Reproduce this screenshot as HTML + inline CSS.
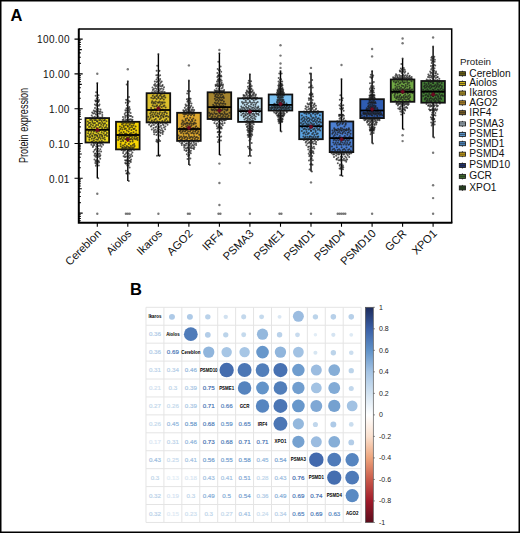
<!DOCTYPE html>
<html><head><meta charset="utf-8"><title>Figure</title>
<style>html,body{margin:0;padding:0;background:#fff;width:520px;height:533px;overflow:hidden}</style>
</head><body>
<svg width="520" height="533" viewBox="0 0 520 533" style="display:block"><rect x="0" y="0" width="520" height="533" fill="#fff"/><text x="10.6" y="20.8" font-family='"Liberation Sans", sans-serif' font-weight="bold" font-size="16.5" fill="#000">A</text><line x1="97.3" y1="82.9" x2="97.3" y2="118.1" stroke="#000" stroke-width="1.4"/><line x1="97.3" y1="142.5" x2="97.3" y2="178.3" stroke="#000" stroke-width="1.4"/><rect x="85.5" y="118.1" width="23.6" height="24.4" fill="#efdd22" stroke="#111" stroke-width="1.8"/><line x1="127.8" y1="81.2" x2="127.8" y2="121.8" stroke="#000" stroke-width="1.4"/><line x1="127.8" y1="149.4" x2="127.8" y2="181.1" stroke="#000" stroke-width="1.4"/><rect x="116.0" y="121.8" width="23.6" height="27.6" fill="#f7d504" stroke="#111" stroke-width="1.8"/><line x1="158.4" y1="54.1" x2="158.4" y2="93.2" stroke="#000" stroke-width="1.4"/><line x1="158.4" y1="122.4" x2="158.4" y2="156.0" stroke="#000" stroke-width="1.4"/><rect x="146.6" y="93.2" width="23.6" height="29.2" fill="#dcc02c" stroke="#111" stroke-width="1.8"/><line x1="188.9" y1="80.5" x2="188.9" y2="112.8" stroke="#000" stroke-width="1.4"/><line x1="188.9" y1="140.9" x2="188.9" y2="165.0" stroke="#000" stroke-width="1.4"/><rect x="177.1" y="112.8" width="23.6" height="28.1" fill="#dea82e" stroke="#111" stroke-width="1.8"/><line x1="219.4" y1="53.2" x2="219.4" y2="92.3" stroke="#000" stroke-width="1.4"/><line x1="219.4" y1="119.0" x2="219.4" y2="155.0" stroke="#000" stroke-width="1.4"/><rect x="207.6" y="92.3" width="23.6" height="26.7" fill="#a5842e" stroke="#111" stroke-width="1.8"/><line x1="249.9" y1="74.2" x2="249.9" y2="98.3" stroke="#000" stroke-width="1.4"/><line x1="249.9" y1="121.9" x2="249.9" y2="156.0" stroke="#000" stroke-width="1.4"/><rect x="238.1" y="98.3" width="23.6" height="23.6" fill="#c8e6f6" stroke="#111" stroke-width="1.8"/><line x1="280.5" y1="71.0" x2="280.5" y2="94.5" stroke="#000" stroke-width="1.4"/><line x1="280.5" y1="110.5" x2="280.5" y2="131.6" stroke="#000" stroke-width="1.4"/><rect x="268.7" y="94.5" width="23.6" height="16.0" fill="#78bff0" stroke="#111" stroke-width="1.8"/><line x1="311.0" y1="73.5" x2="311.0" y2="111.8" stroke="#000" stroke-width="1.4"/><line x1="311.0" y1="139.2" x2="311.0" y2="171.5" stroke="#000" stroke-width="1.4"/><rect x="299.2" y="111.8" width="23.6" height="27.4" fill="#5ca3e0" stroke="#111" stroke-width="1.8"/><line x1="341.5" y1="79.1" x2="341.5" y2="121.5" stroke="#000" stroke-width="1.4"/><line x1="341.5" y1="152.1" x2="341.5" y2="175.9" stroke="#000" stroke-width="1.4"/><rect x="329.7" y="121.5" width="23.6" height="30.6" fill="#4c7fd2" stroke="#111" stroke-width="1.8"/><line x1="372.1" y1="71.0" x2="372.1" y2="99.2" stroke="#000" stroke-width="1.4"/><line x1="372.1" y1="118.1" x2="372.1" y2="143.5" stroke="#000" stroke-width="1.4"/><rect x="360.3" y="99.2" width="23.6" height="18.9" fill="#2f5db2" stroke="#111" stroke-width="1.8"/><line x1="402.6" y1="58.5" x2="402.6" y2="79.5" stroke="#000" stroke-width="1.4"/><line x1="402.6" y1="101.8" x2="402.6" y2="129.3" stroke="#000" stroke-width="1.4"/><rect x="390.8" y="79.5" width="23.6" height="22.3" fill="#71a944" stroke="#111" stroke-width="1.8"/><line x1="433.1" y1="46.6" x2="433.1" y2="81.0" stroke="#000" stroke-width="1.4"/><line x1="433.1" y1="102.7" x2="433.1" y2="137.6" stroke="#000" stroke-width="1.4"/><rect x="421.3" y="81.0" width="23.6" height="21.7" fill="#458236" stroke="#111" stroke-width="1.8"/><g fill="#1a1a1a" fill-opacity="0.72"><circle cx="98.2" cy="178.3" r="1.0"/><circle cx="95.9" cy="165.7" r="1.0"/><circle cx="98.8" cy="165.5" r="1.0"/><circle cx="96.5" cy="163.9" r="1.0"/><circle cx="97.6" cy="163.2" r="1.0"/><circle cx="95.3" cy="163.1" r="1.0"/><circle cx="99.1" cy="162.2" r="1.0"/><circle cx="96.8" cy="161.9" r="1.0"/><circle cx="97.9" cy="161.4" r="1.0"/><circle cx="95.6" cy="161.2" r="1.0"/><circle cx="98.6" cy="161.0" r="1.0"/><circle cx="96.1" cy="160.6" r="1.0"/><circle cx="97.4" cy="159.8" r="1.0"/><circle cx="94.5" cy="159.4" r="1.0"/><circle cx="100.2" cy="158.8" r="1.0"/><circle cx="97.2" cy="157.2" r="1.0"/><circle cx="98.9" cy="156.9" r="1.0"/><circle cx="95.5" cy="156.8" r="1.0"/><circle cx="99.8" cy="156.3" r="1.0"/><circle cx="96.3" cy="155.5" r="1.0"/><circle cx="98.1" cy="155.5" r="1.0"/><circle cx="94.5" cy="155.4" r="1.0"/><circle cx="100.4" cy="155.3" r="1.0"/><circle cx="96.8" cy="155.2" r="1.0"/><circle cx="98.6" cy="154.1" r="1.0"/><circle cx="94.8" cy="153.7" r="1.0"/><circle cx="99.6" cy="153.6" r="1.0"/><circle cx="95.8" cy="153.4" r="1.0"/><circle cx="97.7" cy="152.0" r="1.0"/><circle cx="93.6" cy="151.8" r="1.0"/><circle cx="101.1" cy="151.4" r="1.0"/><circle cx="96.9" cy="151.2" r="1.0"/><circle cx="99.0" cy="151.0" r="1.0"/><circle cx="94.7" cy="150.0" r="1.0"/><circle cx="100.3" cy="149.2" r="1.0"/><circle cx="95.8" cy="149.1" r="1.0"/><circle cx="98.1" cy="148.8" r="1.0"/><circle cx="92.9" cy="146.9" r="1.0"/><circle cx="101.5" cy="146.8" r="1.0"/><circle cx="96.2" cy="146.7" r="1.0"/><circle cx="98.9" cy="146.1" r="1.0"/><circle cx="93.2" cy="145.7" r="1.0"/><circle cx="100.5" cy="145.4" r="1.0"/><circle cx="94.5" cy="145.0" r="1.0"/><circle cx="97.5" cy="144.9" r="1.0"/><circle cx="91.4" cy="144.8" r="1.0"/><circle cx="103.1" cy="144.7" r="1.0"/><circle cx="97.0" cy="144.4" r="1.0"/><circle cx="100.2" cy="143.8" r="1.0"/><circle cx="93.6" cy="143.7" r="1.0"/><circle cx="101.9" cy="143.6" r="1.0"/><circle cx="95.2" cy="143.1" r="1.0"/><circle cx="98.7" cy="142.9" r="1.0"/><circle cx="91.5" cy="142.5" r="1.0"/><circle cx="103.3" cy="142.3" r="1.0"/><circle cx="96.0" cy="142.0" r="1.0"/><circle cx="99.7" cy="141.6" r="1.0"/><circle cx="92.1" cy="141.4" r="1.0"/><circle cx="101.8" cy="140.9" r="1.0"/><circle cx="93.8" cy="140.5" r="1.0"/><circle cx="97.9" cy="139.8" r="1.0"/><circle cx="89.4" cy="139.7" r="1.0"/><circle cx="104.9" cy="139.6" r="1.0"/><circle cx="96.3" cy="139.5" r="1.0"/><circle cx="100.7" cy="138.8" r="1.0"/><circle cx="91.8" cy="138.7" r="1.0"/><circle cx="103.0" cy="138.6" r="1.0"/><circle cx="94.0" cy="138.4" r="1.0"/><circle cx="98.5" cy="137.9" r="1.0"/><circle cx="89.2" cy="137.6" r="1.0"/><circle cx="104.5" cy="137.4" r="1.0"/><circle cx="95.0" cy="137.2" r="1.0"/><circle cx="99.8" cy="137.1" r="1.0"/><circle cx="90.2" cy="137.0" r="1.0"/><circle cx="102.2" cy="136.7" r="1.0"/><circle cx="92.5" cy="136.6" r="1.0"/><circle cx="97.4" cy="136.6" r="1.0"/><circle cx="87.6" cy="136.2" r="1.0"/><circle cx="107.0" cy="136.0" r="1.0"/><circle cx="97.1" cy="135.6" r="1.0"/><circle cx="102.1" cy="135.5" r="1.0"/><circle cx="92.1" cy="135.4" r="1.0"/><circle cx="104.7" cy="135.2" r="1.0"/><circle cx="94.6" cy="135.1" r="1.0"/><circle cx="99.7" cy="135.1" r="1.0"/><circle cx="89.6" cy="134.9" r="1.0"/><circle cx="106.0" cy="134.7" r="1.0"/><circle cx="95.9" cy="134.7" r="1.0"/><circle cx="101.0" cy="134.4" r="1.0"/><circle cx="90.7" cy="133.8" r="1.0"/><circle cx="103.6" cy="133.5" r="1.0"/><circle cx="93.3" cy="133.5" r="1.0"/><circle cx="98.4" cy="133.4" r="1.0"/><circle cx="88.1" cy="133.2" r="1.0"/><circle cx="106.9" cy="133.0" r="1.0"/><circle cx="96.5" cy="132.3" r="1.0"/><circle cx="101.7" cy="132.3" r="1.0"/><circle cx="91.3" cy="131.7" r="1.0"/><circle cx="104.3" cy="131.6" r="1.0"/><circle cx="93.9" cy="131.5" r="1.0"/><circle cx="99.1" cy="131.2" r="1.0"/><circle cx="88.6" cy="131.2" r="1.0"/><circle cx="105.7" cy="130.9" r="1.0"/><circle cx="95.2" cy="130.7" r="1.0"/><circle cx="100.4" cy="130.0" r="1.0"/><circle cx="89.9" cy="129.8" r="1.0"/><circle cx="103.0" cy="129.8" r="1.0"/><circle cx="92.5" cy="129.5" r="1.0"/><circle cx="97.8" cy="129.4" r="1.0"/><circle cx="87.3" cy="129.2" r="1.0"/><circle cx="107.3" cy="128.3" r="1.0"/><circle cx="96.8" cy="128.0" r="1.0"/><circle cx="102.1" cy="127.9" r="1.0"/><circle cx="91.6" cy="127.8" r="1.0"/><circle cx="104.7" cy="127.7" r="1.0"/><circle cx="94.2" cy="127.5" r="1.0"/><circle cx="99.4" cy="127.2" r="1.0"/><circle cx="89.0" cy="127.1" r="1.0"/><circle cx="106.0" cy="127.1" r="1.0"/><circle cx="95.5" cy="126.6" r="1.0"/><circle cx="100.7" cy="126.5" r="1.0"/><circle cx="90.3" cy="126.2" r="1.0"/><circle cx="103.3" cy="125.7" r="1.0"/><circle cx="92.9" cy="125.4" r="1.0"/><circle cx="98.1" cy="125.1" r="1.0"/><circle cx="87.8" cy="125.1" r="1.0"/><circle cx="106.5" cy="125.0" r="1.0"/><circle cx="96.2" cy="124.9" r="1.0"/><circle cx="101.3" cy="124.6" r="1.0"/><circle cx="91.0" cy="124.6" r="1.0"/><circle cx="103.8" cy="124.0" r="1.0"/><circle cx="93.7" cy="123.5" r="1.0"/><circle cx="98.7" cy="123.3" r="1.0"/><circle cx="88.7" cy="123.3" r="1.0"/><circle cx="105.0" cy="123.2" r="1.0"/><circle cx="95.0" cy="123.1" r="1.0"/><circle cx="100.0" cy="123.0" r="1.0"/><circle cx="90.0" cy="122.7" r="1.0"/><circle cx="102.4" cy="122.7" r="1.0"/><circle cx="92.5" cy="122.6" r="1.0"/><circle cx="97.4" cy="121.5" r="1.0"/><circle cx="87.9" cy="121.4" r="1.0"/><circle cx="106.5" cy="121.3" r="1.0"/><circle cx="97.0" cy="121.2" r="1.0"/><circle cx="101.7" cy="121.1" r="1.0"/><circle cx="92.3" cy="121.0" r="1.0"/><circle cx="103.9" cy="120.5" r="1.0"/><circle cx="94.7" cy="120.3" r="1.0"/><circle cx="99.3" cy="120.2" r="1.0"/><circle cx="90.2" cy="120.1" r="1.0"/><circle cx="104.9" cy="120.0" r="1.0"/><circle cx="95.9" cy="119.9" r="1.0"/><circle cx="100.4" cy="119.7" r="1.0"/><circle cx="91.6" cy="119.4" r="1.0"/><circle cx="102.3" cy="118.8" r="1.0"/><circle cx="93.9" cy="118.7" r="1.0"/><circle cx="98.1" cy="118.4" r="1.0"/><circle cx="89.9" cy="118.3" r="1.0"/><circle cx="104.7" cy="118.2" r="1.0"/><circle cx="96.5" cy="118.1" r="1.0"/><circle cx="100.5" cy="117.7" r="1.0"/><circle cx="92.8" cy="117.2" r="1.0"/><circle cx="102.3" cy="117.1" r="1.0"/><circle cx="94.8" cy="116.7" r="1.0"/><circle cx="98.4" cy="116.3" r="1.0"/><circle cx="91.7" cy="115.4" r="1.0"/><circle cx="102.3" cy="114.9" r="1.0"/><circle cx="95.9" cy="114.5" r="1.0"/><circle cx="98.9" cy="113.8" r="1.0"/><circle cx="93.2" cy="113.5" r="1.0"/><circle cx="100.3" cy="113.4" r="1.0"/><circle cx="94.7" cy="113.3" r="1.0"/><circle cx="97.5" cy="113.1" r="1.0"/><circle cx="92.2" cy="112.5" r="1.0"/><circle cx="102.2" cy="112.5" r="1.0"/><circle cx="97.0" cy="111.9" r="1.0"/><circle cx="99.4" cy="111.8" r="1.0"/><circle cx="94.6" cy="111.6" r="1.0"/><circle cx="100.5" cy="111.4" r="1.0"/><circle cx="95.8" cy="111.2" r="1.0"/><circle cx="98.1" cy="110.9" r="1.0"/><circle cx="93.8" cy="110.5" r="1.0"/><circle cx="100.5" cy="109.6" r="1.0"/><circle cx="96.6" cy="109.4" r="1.0"/><circle cx="98.5" cy="109.1" r="1.0"/><circle cx="95.0" cy="107.9" r="1.0"/><circle cx="98.9" cy="105.7" r="1.0"/><circle cx="96.1" cy="105.5" r="1.0"/><circle cx="97.5" cy="105.2" r="1.0"/><circle cx="94.9" cy="104.6" r="1.0"/><circle cx="99.5" cy="104.5" r="1.0"/><circle cx="97.0" cy="104.0" r="1.0"/><circle cx="98.2" cy="102.0" r="1.0"/><circle cx="95.9" cy="101.4" r="1.0"/><circle cx="98.7" cy="101.2" r="1.0"/><circle cx="96.4" cy="101.0" r="1.0"/><circle cx="97.6" cy="100.9" r="1.0"/><circle cx="95.3" cy="100.5" r="1.0"/><circle cx="99.0" cy="100.1" r="1.0"/><circle cx="96.7" cy="98.6" r="1.0"/><circle cx="97.9" cy="97.7" r="1.0"/><circle cx="95.6" cy="95.8" r="1.0"/><circle cx="98.5" cy="95.3" r="1.0"/><circle cx="96.1" cy="92.2" r="1.0"/><circle cx="97.3" cy="82.9" r="1.0"/><circle cx="97.3" cy="73.7" r="1.2" fill="#444"/><circle cx="97.3" cy="193.7" r="1.2" fill="#444"/><circle cx="97.3" cy="213.7" r="1.2" fill="#444"/><circle cx="128.8" cy="181.1" r="1.0"/><circle cx="126.4" cy="173.6" r="1.0"/><circle cx="129.3" cy="173.5" r="1.0"/><circle cx="127.0" cy="173.3" r="1.0"/><circle cx="128.2" cy="172.2" r="1.0"/><circle cx="125.9" cy="170.8" r="1.0"/><circle cx="129.6" cy="167.5" r="1.0"/><circle cx="127.3" cy="165.6" r="1.0"/><circle cx="128.5" cy="165.6" r="1.0"/><circle cx="126.0" cy="163.7" r="1.0"/><circle cx="129.2" cy="163.4" r="1.0"/><circle cx="126.6" cy="163.2" r="1.0"/><circle cx="127.9" cy="163.1" r="1.0"/><circle cx="125.2" cy="162.9" r="1.0"/><circle cx="130.8" cy="161.9" r="1.0"/><circle cx="127.8" cy="161.6" r="1.0"/><circle cx="129.4" cy="161.1" r="1.0"/><circle cx="126.0" cy="160.8" r="1.0"/><circle cx="130.3" cy="160.7" r="1.0"/><circle cx="126.9" cy="160.6" r="1.0"/><circle cx="128.6" cy="160.4" r="1.0"/><circle cx="125.1" cy="160.2" r="1.0"/><circle cx="131.1" cy="159.4" r="1.0"/><circle cx="127.3" cy="159.3" r="1.0"/><circle cx="129.3" cy="157.9" r="1.0"/><circle cx="124.9" cy="157.1" r="1.0"/><circle cx="130.5" cy="157.0" r="1.0"/><circle cx="126.0" cy="156.8" r="1.0"/><circle cx="128.3" cy="156.6" r="1.0"/><circle cx="123.6" cy="156.3" r="1.0"/><circle cx="132.2" cy="156.1" r="1.0"/><circle cx="127.4" cy="155.7" r="1.0"/><circle cx="129.9" cy="155.2" r="1.0"/><circle cx="124.8" cy="154.8" r="1.0"/><circle cx="131.3" cy="154.2" r="1.0"/><circle cx="126.0" cy="153.5" r="1.0"/><circle cx="128.7" cy="153.4" r="1.0"/><circle cx="123.1" cy="152.9" r="1.0"/><circle cx="132.4" cy="152.5" r="1.0"/><circle cx="126.6" cy="152.2" r="1.0"/><circle cx="129.6" cy="151.1" r="1.0"/><circle cx="123.4" cy="151.0" r="1.0"/><circle cx="131.2" cy="150.7" r="1.0"/><circle cx="124.9" cy="150.4" r="1.0"/><circle cx="128.1" cy="150.3" r="1.0"/><circle cx="121.6" cy="150.1" r="1.0"/><circle cx="134.0" cy="149.8" r="1.0"/><circle cx="127.5" cy="149.6" r="1.0"/><circle cx="130.8" cy="149.0" r="1.0"/><circle cx="124.1" cy="149.0" r="1.0"/><circle cx="132.6" cy="148.8" r="1.0"/><circle cx="125.7" cy="148.1" r="1.0"/><circle cx="129.2" cy="148.0" r="1.0"/><circle cx="122.1" cy="147.9" r="1.0"/><circle cx="133.7" cy="147.6" r="1.0"/><circle cx="126.5" cy="147.6" r="1.0"/><circle cx="130.1" cy="147.6" r="1.0"/><circle cx="122.9" cy="147.5" r="1.0"/><circle cx="132.0" cy="147.2" r="1.0"/><circle cx="124.7" cy="147.1" r="1.0"/><circle cx="128.3" cy="147.0" r="1.0"/><circle cx="120.8" cy="146.2" r="1.0"/><circle cx="134.6" cy="146.1" r="1.0"/><circle cx="126.9" cy="146.0" r="1.0"/><circle cx="130.8" cy="145.7" r="1.0"/><circle cx="123.0" cy="145.4" r="1.0"/><circle cx="132.9" cy="145.0" r="1.0"/><circle cx="124.8" cy="144.5" r="1.0"/><circle cx="128.9" cy="144.1" r="1.0"/><circle cx="120.6" cy="144.0" r="1.0"/><circle cx="134.2" cy="144.0" r="1.0"/><circle cx="125.7" cy="142.4" r="1.0"/><circle cx="130.2" cy="141.8" r="1.0"/><circle cx="121.0" cy="141.6" r="1.0"/><circle cx="132.6" cy="141.4" r="1.0"/><circle cx="123.2" cy="141.1" r="1.0"/><circle cx="127.9" cy="140.6" r="1.0"/><circle cx="118.1" cy="140.1" r="1.0"/><circle cx="137.5" cy="139.9" r="1.0"/><circle cx="127.7" cy="139.9" r="1.0"/><circle cx="132.6" cy="139.8" r="1.0"/><circle cx="122.7" cy="139.7" r="1.0"/><circle cx="135.2" cy="139.3" r="1.0"/><circle cx="125.2" cy="139.3" r="1.0"/><circle cx="130.2" cy="139.2" r="1.0"/><circle cx="120.1" cy="139.0" r="1.0"/><circle cx="136.6" cy="138.7" r="1.0"/><circle cx="126.4" cy="138.7" r="1.0"/><circle cx="131.5" cy="138.7" r="1.0"/><circle cx="121.3" cy="138.6" r="1.0"/><circle cx="134.1" cy="138.2" r="1.0"/><circle cx="123.8" cy="137.9" r="1.0"/><circle cx="129.0" cy="137.8" r="1.0"/><circle cx="118.6" cy="137.7" r="1.0"/><circle cx="137.4" cy="137.7" r="1.0"/><circle cx="127.0" cy="137.3" r="1.0"/><circle cx="132.2" cy="137.1" r="1.0"/><circle cx="121.8" cy="136.9" r="1.0"/><circle cx="134.9" cy="136.8" r="1.0"/><circle cx="124.4" cy="136.5" r="1.0"/><circle cx="129.6" cy="136.5" r="1.0"/><circle cx="119.1" cy="136.3" r="1.0"/><circle cx="136.2" cy="136.2" r="1.0"/><circle cx="125.7" cy="136.1" r="1.0"/><circle cx="130.9" cy="136.0" r="1.0"/><circle cx="120.5" cy="135.7" r="1.0"/><circle cx="133.6" cy="135.4" r="1.0"/><circle cx="123.1" cy="135.4" r="1.0"/><circle cx="128.3" cy="135.4" r="1.0"/><circle cx="117.9" cy="135.3" r="1.0"/><circle cx="137.7" cy="134.8" r="1.0"/><circle cx="127.3" cy="134.6" r="1.0"/><circle cx="132.5" cy="134.6" r="1.0"/><circle cx="122.2" cy="134.2" r="1.0"/><circle cx="135.1" cy="134.2" r="1.0"/><circle cx="124.8" cy="133.8" r="1.0"/><circle cx="129.9" cy="133.8" r="1.0"/><circle cx="119.7" cy="133.6" r="1.0"/><circle cx="136.2" cy="133.6" r="1.0"/><circle cx="126.1" cy="133.4" r="1.0"/><circle cx="131.1" cy="133.1" r="1.0"/><circle cx="121.2" cy="132.6" r="1.0"/><circle cx="133.5" cy="132.3" r="1.0"/><circle cx="123.7" cy="131.9" r="1.0"/><circle cx="128.6" cy="131.5" r="1.0"/><circle cx="119.3" cy="130.7" r="1.0"/><circle cx="136.1" cy="130.5" r="1.0"/><circle cx="126.8" cy="130.5" r="1.0"/><circle cx="131.4" cy="130.0" r="1.0"/><circle cx="122.4" cy="129.4" r="1.0"/><circle cx="133.5" cy="129.1" r="1.0"/><circle cx="124.7" cy="129.0" r="1.0"/><circle cx="129.1" cy="128.9" r="1.0"/><circle cx="120.3" cy="128.9" r="1.0"/><circle cx="134.5" cy="128.7" r="1.0"/><circle cx="125.8" cy="128.5" r="1.0"/><circle cx="130.0" cy="127.6" r="1.0"/><circle cx="121.7" cy="127.4" r="1.0"/><circle cx="132.1" cy="127.2" r="1.0"/><circle cx="123.9" cy="127.1" r="1.0"/><circle cx="128.0" cy="126.8" r="1.0"/><circle cx="119.9" cy="126.5" r="1.0"/><circle cx="135.6" cy="126.4" r="1.0"/><circle cx="127.6" cy="125.8" r="1.0"/><circle cx="131.5" cy="125.7" r="1.0"/><circle cx="123.7" cy="125.4" r="1.0"/><circle cx="133.4" cy="125.4" r="1.0"/><circle cx="125.7" cy="125.2" r="1.0"/><circle cx="129.5" cy="124.8" r="1.0"/><circle cx="122.0" cy="124.4" r="1.0"/><circle cx="134.0" cy="123.5" r="1.0"/><circle cx="126.7" cy="123.4" r="1.0"/><circle cx="130.3" cy="123.4" r="1.0"/><circle cx="123.1" cy="123.3" r="1.0"/><circle cx="132.1" cy="123.2" r="1.0"/><circle cx="125.0" cy="122.7" r="1.0"/><circle cx="128.5" cy="122.7" r="1.0"/><circle cx="121.5" cy="122.5" r="1.0"/><circle cx="134.2" cy="122.5" r="1.0"/><circle cx="127.2" cy="121.6" r="1.0"/><circle cx="130.6" cy="121.6" r="1.0"/><circle cx="124.0" cy="121.0" r="1.0"/><circle cx="132.0" cy="120.6" r="1.0"/><circle cx="125.7" cy="120.2" r="1.0"/><circle cx="128.8" cy="120.0" r="1.0"/><circle cx="122.7" cy="119.9" r="1.0"/><circle cx="132.5" cy="119.7" r="1.0"/><circle cx="126.5" cy="119.7" r="1.0"/><circle cx="129.5" cy="119.6" r="1.0"/><circle cx="123.6" cy="119.2" r="1.0"/><circle cx="130.9" cy="119.2" r="1.0"/><circle cx="125.3" cy="117.8" r="1.0"/><circle cx="128.0" cy="117.5" r="1.0"/><circle cx="123.0" cy="117.0" r="1.0"/><circle cx="132.5" cy="116.9" r="1.0"/><circle cx="127.5" cy="116.8" r="1.0"/><circle cx="129.9" cy="116.1" r="1.0"/><circle cx="125.2" cy="116.1" r="1.0"/><circle cx="131.0" cy="116.1" r="1.0"/><circle cx="126.4" cy="115.5" r="1.0"/><circle cx="128.6" cy="115.1" r="1.0"/><circle cx="124.7" cy="114.1" r="1.0"/><circle cx="130.6" cy="112.9" r="1.0"/><circle cx="127.2" cy="112.4" r="1.0"/><circle cx="128.9" cy="112.4" r="1.0"/><circle cx="125.6" cy="112.4" r="1.0"/><circle cx="129.4" cy="111.0" r="1.0"/><circle cx="126.7" cy="110.4" r="1.0"/><circle cx="128.0" cy="110.3" r="1.0"/><circle cx="125.4" cy="110.2" r="1.0"/><circle cx="129.9" cy="109.2" r="1.0"/><circle cx="127.5" cy="109.1" r="1.0"/><circle cx="128.7" cy="108.2" r="1.0"/><circle cx="126.4" cy="108.2" r="1.0"/><circle cx="129.3" cy="106.9" r="1.0"/><circle cx="127.0" cy="105.3" r="1.0"/><circle cx="128.1" cy="103.1" r="1.0"/><circle cx="125.8" cy="102.7" r="1.0"/><circle cx="129.6" cy="101.6" r="1.0"/><circle cx="127.3" cy="100.8" r="1.0"/><circle cx="128.4" cy="100.8" r="1.0"/><circle cx="126.1" cy="99.7" r="1.0"/><circle cx="129.0" cy="97.0" r="1.0"/><circle cx="126.7" cy="84.5" r="1.0"/><circle cx="127.8" cy="81.2" r="1.0"/><circle cx="127.8" cy="69.2" r="1.2" fill="#444"/><circle cx="125.9" cy="213.7" r="1.2" fill="#444"/><circle cx="127.8" cy="213.7" r="1.2" fill="#444"/><circle cx="129.7" cy="213.7" r="1.2" fill="#444"/><circle cx="159.3" cy="156.0" r="1.0"/><circle cx="157.0" cy="155.7" r="1.0"/><circle cx="159.9" cy="155.2" r="1.0"/><circle cx="157.5" cy="142.3" r="1.0"/><circle cx="158.7" cy="141.3" r="1.0"/><circle cx="156.4" cy="141.2" r="1.0"/><circle cx="160.1" cy="141.1" r="1.0"/><circle cx="157.8" cy="140.7" r="1.0"/><circle cx="159.0" cy="139.8" r="1.0"/><circle cx="156.7" cy="139.7" r="1.0"/><circle cx="160.1" cy="135.8" r="1.0"/><circle cx="156.5" cy="134.9" r="1.0"/><circle cx="158.5" cy="134.5" r="1.0"/><circle cx="154.2" cy="134.2" r="1.0"/><circle cx="162.7" cy="134.0" r="1.0"/><circle cx="158.2" cy="133.5" r="1.0"/><circle cx="160.7" cy="133.1" r="1.0"/><circle cx="155.5" cy="132.2" r="1.0"/><circle cx="162.4" cy="132.2" r="1.0"/><circle cx="156.8" cy="132.0" r="1.0"/><circle cx="159.7" cy="131.9" r="1.0"/><circle cx="153.9" cy="131.9" r="1.0"/><circle cx="163.4" cy="131.6" r="1.0"/><circle cx="157.4" cy="130.4" r="1.0"/><circle cx="160.7" cy="130.3" r="1.0"/><circle cx="154.0" cy="130.3" r="1.0"/><circle cx="162.4" cy="130.3" r="1.0"/><circle cx="155.5" cy="129.7" r="1.0"/><circle cx="159.1" cy="129.5" r="1.0"/><circle cx="151.8" cy="129.4" r="1.0"/><circle cx="165.1" cy="129.3" r="1.0"/><circle cx="157.7" cy="128.6" r="1.0"/><circle cx="161.7" cy="128.2" r="1.0"/><circle cx="153.5" cy="127.9" r="1.0"/><circle cx="164.0" cy="127.4" r="1.0"/><circle cx="155.5" cy="127.3" r="1.0"/><circle cx="159.8" cy="127.0" r="1.0"/><circle cx="150.9" cy="126.6" r="1.0"/><circle cx="165.4" cy="126.6" r="1.0"/><circle cx="156.5" cy="126.6" r="1.0"/><circle cx="161.0" cy="125.8" r="1.0"/><circle cx="151.7" cy="125.6" r="1.0"/><circle cx="163.5" cy="125.2" r="1.0"/><circle cx="153.9" cy="124.9" r="1.0"/><circle cx="158.7" cy="124.9" r="1.0"/><circle cx="149.1" cy="124.8" r="1.0"/><circle cx="167.5" cy="124.8" r="1.0"/><circle cx="157.8" cy="124.5" r="1.0"/><circle cx="162.8" cy="124.1" r="1.0"/><circle cx="152.8" cy="123.5" r="1.0"/><circle cx="165.4" cy="123.4" r="1.0"/><circle cx="155.3" cy="123.4" r="1.0"/><circle cx="160.3" cy="123.2" r="1.0"/><circle cx="150.2" cy="123.1" r="1.0"/><circle cx="166.7" cy="123.0" r="1.0"/><circle cx="156.5" cy="123.0" r="1.0"/><circle cx="161.7" cy="122.5" r="1.0"/><circle cx="151.3" cy="122.2" r="1.0"/><circle cx="164.3" cy="122.2" r="1.0"/><circle cx="153.9" cy="121.8" r="1.0"/><circle cx="159.1" cy="121.8" r="1.0"/><circle cx="148.7" cy="121.4" r="1.0"/><circle cx="167.6" cy="121.3" r="1.0"/><circle cx="157.1" cy="121.3" r="1.0"/><circle cx="162.4" cy="121.1" r="1.0"/><circle cx="151.9" cy="120.5" r="1.0"/><circle cx="165.0" cy="120.2" r="1.0"/><circle cx="154.5" cy="120.0" r="1.0"/><circle cx="159.8" cy="119.3" r="1.0"/><circle cx="149.3" cy="119.2" r="1.0"/><circle cx="166.3" cy="119.1" r="1.0"/><circle cx="155.8" cy="119.0" r="1.0"/><circle cx="161.0" cy="117.9" r="1.0"/><circle cx="150.7" cy="117.8" r="1.0"/><circle cx="163.5" cy="117.3" r="1.0"/><circle cx="153.4" cy="116.9" r="1.0"/><circle cx="158.4" cy="116.8" r="1.0"/><circle cx="148.3" cy="116.8" r="1.0"/><circle cx="168.3" cy="116.7" r="1.0"/><circle cx="158.2" cy="116.5" r="1.0"/><circle cx="163.2" cy="116.3" r="1.0"/><circle cx="153.2" cy="116.2" r="1.0"/><circle cx="165.7" cy="116.2" r="1.0"/><circle cx="155.7" cy="115.9" r="1.0"/><circle cx="160.7" cy="115.9" r="1.0"/><circle cx="150.8" cy="115.8" r="1.0"/><circle cx="166.8" cy="115.7" r="1.0"/><circle cx="157.0" cy="115.2" r="1.0"/><circle cx="161.8" cy="115.1" r="1.0"/><circle cx="152.3" cy="114.6" r="1.0"/><circle cx="164.1" cy="114.4" r="1.0"/><circle cx="154.7" cy="114.2" r="1.0"/><circle cx="159.4" cy="114.1" r="1.0"/><circle cx="150.2" cy="113.4" r="1.0"/><circle cx="166.8" cy="113.3" r="1.0"/><circle cx="157.6" cy="113.3" r="1.0"/><circle cx="162.2" cy="113.0" r="1.0"/><circle cx="153.2" cy="112.6" r="1.0"/><circle cx="164.3" cy="112.4" r="1.0"/><circle cx="155.5" cy="112.4" r="1.0"/><circle cx="159.9" cy="112.2" r="1.0"/><circle cx="151.2" cy="112.0" r="1.0"/><circle cx="165.3" cy="112.0" r="1.0"/><circle cx="156.7" cy="110.4" r="1.0"/><circle cx="160.8" cy="110.2" r="1.0"/><circle cx="152.7" cy="109.9" r="1.0"/><circle cx="162.7" cy="109.4" r="1.0"/><circle cx="154.8" cy="109.0" r="1.0"/><circle cx="158.7" cy="108.4" r="1.0"/><circle cx="151.1" cy="108.0" r="1.0"/><circle cx="165.6" cy="107.6" r="1.0"/><circle cx="158.0" cy="107.6" r="1.0"/><circle cx="161.7" cy="107.1" r="1.0"/><circle cx="154.3" cy="106.4" r="1.0"/><circle cx="163.5" cy="106.3" r="1.0"/><circle cx="156.2" cy="106.2" r="1.0"/><circle cx="159.8" cy="105.9" r="1.0"/><circle cx="152.6" cy="105.6" r="1.0"/><circle cx="164.4" cy="105.6" r="1.0"/><circle cx="157.1" cy="105.3" r="1.0"/><circle cx="160.7" cy="104.3" r="1.0"/><circle cx="153.5" cy="103.6" r="1.0"/><circle cx="162.5" cy="103.6" r="1.0"/><circle cx="155.3" cy="103.4" r="1.0"/><circle cx="158.9" cy="102.7" r="1.0"/><circle cx="151.8" cy="102.7" r="1.0"/><circle cx="164.7" cy="102.6" r="1.0"/><circle cx="157.6" cy="102.5" r="1.0"/><circle cx="161.1" cy="102.3" r="1.0"/><circle cx="154.0" cy="102.2" r="1.0"/><circle cx="162.9" cy="102.2" r="1.0"/><circle cx="155.8" cy="101.6" r="1.0"/><circle cx="159.4" cy="101.6" r="1.0"/><circle cx="152.2" cy="101.3" r="1.0"/><circle cx="163.8" cy="99.5" r="1.0"/><circle cx="156.7" cy="99.1" r="1.0"/><circle cx="160.3" cy="98.9" r="1.0"/><circle cx="153.1" cy="98.5" r="1.0"/><circle cx="162.0" cy="98.2" r="1.0"/><circle cx="154.9" cy="98.1" r="1.0"/><circle cx="158.5" cy="98.0" r="1.0"/><circle cx="151.3" cy="97.8" r="1.0"/><circle cx="165.3" cy="97.6" r="1.0"/><circle cx="158.1" cy="96.9" r="1.0"/><circle cx="161.7" cy="96.8" r="1.0"/><circle cx="154.6" cy="96.7" r="1.0"/><circle cx="163.5" cy="96.4" r="1.0"/><circle cx="156.4" cy="95.9" r="1.0"/><circle cx="159.9" cy="95.8" r="1.0"/><circle cx="152.8" cy="95.8" r="1.0"/><circle cx="164.4" cy="95.5" r="1.0"/><circle cx="157.3" cy="94.9" r="1.0"/><circle cx="160.8" cy="94.7" r="1.0"/><circle cx="153.7" cy="93.6" r="1.0"/><circle cx="162.5" cy="93.5" r="1.0"/><circle cx="155.5" cy="93.1" r="1.0"/><circle cx="159.0" cy="92.3" r="1.0"/><circle cx="152.1" cy="92.3" r="1.0"/><circle cx="164.6" cy="91.9" r="1.0"/><circle cx="157.7" cy="91.6" r="1.0"/><circle cx="161.1" cy="91.6" r="1.0"/><circle cx="154.3" cy="91.2" r="1.0"/><circle cx="162.8" cy="91.2" r="1.0"/><circle cx="156.0" cy="90.9" r="1.0"/><circle cx="159.4" cy="90.5" r="1.0"/><circle cx="152.8" cy="90.0" r="1.0"/><circle cx="163.4" cy="89.2" r="1.0"/><circle cx="156.9" cy="89.1" r="1.0"/><circle cx="160.2" cy="89.0" r="1.0"/><circle cx="153.8" cy="88.9" r="1.0"/><circle cx="161.7" cy="88.5" r="1.0"/><circle cx="155.4" cy="88.2" r="1.0"/><circle cx="158.6" cy="88.0" r="1.0"/><circle cx="152.5" cy="87.4" r="1.0"/><circle cx="164.0" cy="87.3" r="1.0"/><circle cx="158.0" cy="86.9" r="1.0"/><circle cx="160.8" cy="86.2" r="1.0"/><circle cx="155.2" cy="86.0" r="1.0"/><circle cx="162.2" cy="85.9" r="1.0"/><circle cx="156.6" cy="85.9" r="1.0"/><circle cx="159.4" cy="85.8" r="1.0"/><circle cx="154.1" cy="85.0" r="1.0"/><circle cx="162.6" cy="84.9" r="1.0"/><circle cx="157.4" cy="84.7" r="1.0"/><circle cx="159.9" cy="84.1" r="1.0"/><circle cx="155.1" cy="83.9" r="1.0"/><circle cx="160.7" cy="82.4" r="1.0"/><circle cx="156.6" cy="82.1" r="1.0"/><circle cx="158.6" cy="81.8" r="1.0"/><circle cx="154.8" cy="81.6" r="1.0"/><circle cx="161.7" cy="81.5" r="1.0"/><circle cx="157.9" cy="81.3" r="1.0"/><circle cx="159.6" cy="80.6" r="1.0"/><circle cx="156.5" cy="79.5" r="1.0"/><circle cx="160.1" cy="79.0" r="1.0"/><circle cx="157.5" cy="77.7" r="1.0"/><circle cx="158.6" cy="76.3" r="1.0"/><circle cx="156.3" cy="75.3" r="1.0"/><circle cx="160.1" cy="75.2" r="1.0"/><circle cx="157.8" cy="74.9" r="1.0"/><circle cx="158.9" cy="70.9" r="1.0"/><circle cx="156.6" cy="70.8" r="1.0"/><circle cx="159.5" cy="70.7" r="1.0"/><circle cx="157.2" cy="65.7" r="1.0"/><circle cx="158.4" cy="54.1" r="1.0"/><circle cx="158.4" cy="213.7" r="1.2" fill="#444"/><circle cx="189.8" cy="165.0" r="1.0"/><circle cx="187.5" cy="158.9" r="1.0"/><circle cx="190.4" cy="158.6" r="1.0"/><circle cx="188.1" cy="156.0" r="1.0"/><circle cx="189.2" cy="154.9" r="1.0"/><circle cx="186.9" cy="154.3" r="1.0"/><circle cx="190.8" cy="153.2" r="1.0"/><circle cx="188.2" cy="152.4" r="1.0"/><circle cx="189.8" cy="151.9" r="1.0"/><circle cx="186.1" cy="150.9" r="1.0"/><circle cx="190.9" cy="150.8" r="1.0"/><circle cx="186.9" cy="150.3" r="1.0"/><circle cx="189.0" cy="150.1" r="1.0"/><circle cx="184.5" cy="149.9" r="1.0"/><circle cx="194.0" cy="149.0" r="1.0"/><circle cx="188.8" cy="148.9" r="1.0"/><circle cx="191.6" cy="148.3" r="1.0"/><circle cx="185.9" cy="148.2" r="1.0"/><circle cx="193.1" cy="148.2" r="1.0"/><circle cx="187.3" cy="148.1" r="1.0"/><circle cx="190.3" cy="147.8" r="1.0"/><circle cx="184.2" cy="147.7" r="1.0"/><circle cx="194.4" cy="147.3" r="1.0"/><circle cx="187.9" cy="147.3" r="1.0"/><circle cx="191.3" cy="146.5" r="1.0"/><circle cx="184.2" cy="146.1" r="1.0"/><circle cx="193.4" cy="145.7" r="1.0"/><circle cx="185.8" cy="145.4" r="1.0"/><circle cx="189.7" cy="145.2" r="1.0"/><circle cx="181.8" cy="145.1" r="1.0"/><circle cx="196.1" cy="145.1" r="1.0"/><circle cx="188.2" cy="144.9" r="1.0"/><circle cx="192.2" cy="144.9" r="1.0"/><circle cx="184.1" cy="144.8" r="1.0"/><circle cx="194.4" cy="144.6" r="1.0"/><circle cx="186.0" cy="143.7" r="1.0"/><circle cx="190.3" cy="143.7" r="1.0"/><circle cx="181.4" cy="143.3" r="1.0"/><circle cx="196.0" cy="143.2" r="1.0"/><circle cx="187.0" cy="143.2" r="1.0"/><circle cx="191.5" cy="143.1" r="1.0"/><circle cx="182.4" cy="142.9" r="1.0"/><circle cx="193.9" cy="142.7" r="1.0"/><circle cx="184.5" cy="141.8" r="1.0"/><circle cx="189.3" cy="141.8" r="1.0"/><circle cx="179.6" cy="141.7" r="1.0"/><circle cx="198.1" cy="141.5" r="1.0"/><circle cx="188.4" cy="141.1" r="1.0"/><circle cx="193.3" cy="140.9" r="1.0"/><circle cx="183.4" cy="140.9" r="1.0"/><circle cx="195.8" cy="140.6" r="1.0"/><circle cx="185.8" cy="140.3" r="1.0"/><circle cx="190.9" cy="140.2" r="1.0"/><circle cx="180.7" cy="139.9" r="1.0"/><circle cx="197.3" cy="139.7" r="1.0"/><circle cx="187.0" cy="139.5" r="1.0"/><circle cx="192.2" cy="139.4" r="1.0"/><circle cx="181.9" cy="139.3" r="1.0"/><circle cx="194.8" cy="139.1" r="1.0"/><circle cx="184.4" cy="138.5" r="1.0"/><circle cx="189.6" cy="138.3" r="1.0"/><circle cx="179.2" cy="138.2" r="1.0"/><circle cx="198.1" cy="138.0" r="1.0"/><circle cx="187.7" cy="138.0" r="1.0"/><circle cx="192.9" cy="137.8" r="1.0"/><circle cx="182.4" cy="137.7" r="1.0"/><circle cx="195.5" cy="137.4" r="1.0"/><circle cx="185.0" cy="137.3" r="1.0"/><circle cx="190.3" cy="137.2" r="1.0"/><circle cx="179.8" cy="137.2" r="1.0"/><circle cx="196.8" cy="137.1" r="1.0"/><circle cx="186.3" cy="136.8" r="1.0"/><circle cx="191.6" cy="136.7" r="1.0"/><circle cx="181.1" cy="136.6" r="1.0"/><circle cx="194.2" cy="136.2" r="1.0"/><circle cx="183.7" cy="136.2" r="1.0"/><circle cx="189.0" cy="136.1" r="1.0"/><circle cx="178.5" cy="135.6" r="1.0"/><circle cx="199.2" cy="134.8" r="1.0"/><circle cx="188.7" cy="134.2" r="1.0"/><circle cx="193.9" cy="133.8" r="1.0"/><circle cx="183.5" cy="133.8" r="1.0"/><circle cx="196.5" cy="133.6" r="1.0"/><circle cx="186.1" cy="133.6" r="1.0"/><circle cx="191.3" cy="133.2" r="1.0"/><circle cx="181.0" cy="133.0" r="1.0"/><circle cx="197.7" cy="133.0" r="1.0"/><circle cx="187.4" cy="133.0" r="1.0"/><circle cx="192.6" cy="132.7" r="1.0"/><circle cx="182.4" cy="131.7" r="1.0"/><circle cx="195.1" cy="131.7" r="1.0"/><circle cx="184.9" cy="131.6" r="1.0"/><circle cx="190.0" cy="131.5" r="1.0"/><circle cx="179.9" cy="131.3" r="1.0"/><circle cx="198.2" cy="131.3" r="1.0"/><circle cx="188.1" cy="131.3" r="1.0"/><circle cx="193.1" cy="131.0" r="1.0"/><circle cx="183.1" cy="130.8" r="1.0"/><circle cx="195.6" cy="130.6" r="1.0"/><circle cx="185.6" cy="130.4" r="1.0"/><circle cx="190.6" cy="130.3" r="1.0"/><circle cx="180.7" cy="130.3" r="1.0"/><circle cx="196.7" cy="129.9" r="1.0"/><circle cx="186.9" cy="129.9" r="1.0"/><circle cx="191.8" cy="129.4" r="1.0"/><circle cx="182.1" cy="129.3" r="1.0"/><circle cx="194.1" cy="128.8" r="1.0"/><circle cx="184.6" cy="128.7" r="1.0"/><circle cx="189.3" cy="128.5" r="1.0"/><circle cx="179.9" cy="128.2" r="1.0"/><circle cx="197.8" cy="128.0" r="1.0"/><circle cx="188.5" cy="127.8" r="1.0"/><circle cx="193.1" cy="127.8" r="1.0"/><circle cx="183.8" cy="127.7" r="1.0"/><circle cx="195.3" cy="127.2" r="1.0"/><circle cx="186.2" cy="126.7" r="1.0"/><circle cx="190.7" cy="126.6" r="1.0"/><circle cx="181.8" cy="126.4" r="1.0"/><circle cx="196.2" cy="126.3" r="1.0"/><circle cx="187.4" cy="125.4" r="1.0"/><circle cx="191.6" cy="125.2" r="1.0"/><circle cx="183.3" cy="124.9" r="1.0"/><circle cx="193.6" cy="124.6" r="1.0"/><circle cx="185.5" cy="124.5" r="1.0"/><circle cx="189.5" cy="124.4" r="1.0"/><circle cx="181.6" cy="123.9" r="1.0"/><circle cx="195.8" cy="123.6" r="1.0"/><circle cx="188.0" cy="123.4" r="1.0"/><circle cx="191.9" cy="123.4" r="1.0"/><circle cx="184.2" cy="123.4" r="1.0"/><circle cx="193.8" cy="123.4" r="1.0"/><circle cx="186.1" cy="123.3" r="1.0"/><circle cx="190.0" cy="123.3" r="1.0"/><circle cx="182.5" cy="122.6" r="1.0"/><circle cx="194.5" cy="122.6" r="1.0"/><circle cx="187.2" cy="122.6" r="1.0"/><circle cx="190.8" cy="121.7" r="1.0"/><circle cx="183.7" cy="121.5" r="1.0"/><circle cx="192.4" cy="120.9" r="1.0"/><circle cx="185.7" cy="120.6" r="1.0"/><circle cx="189.0" cy="120.5" r="1.0"/><circle cx="182.4" cy="120.4" r="1.0"/><circle cx="195.3" cy="120.3" r="1.0"/><circle cx="188.7" cy="120.0" r="1.0"/><circle cx="191.9" cy="119.7" r="1.0"/><circle cx="185.6" cy="118.9" r="1.0"/><circle cx="193.3" cy="118.5" r="1.0"/><circle cx="187.2" cy="118.2" r="1.0"/><circle cx="190.2" cy="117.8" r="1.0"/><circle cx="184.2" cy="116.4" r="1.0"/><circle cx="194.0" cy="115.6" r="1.0"/><circle cx="187.9" cy="115.6" r="1.0"/><circle cx="191.0" cy="115.2" r="1.0"/><circle cx="184.9" cy="114.6" r="1.0"/><circle cx="192.5" cy="114.0" r="1.0"/><circle cx="186.4" cy="114.0" r="1.0"/><circle cx="189.5" cy="113.9" r="1.0"/><circle cx="183.4" cy="113.9" r="1.0"/><circle cx="194.4" cy="113.8" r="1.0"/><circle cx="188.3" cy="113.8" r="1.0"/><circle cx="191.4" cy="113.5" r="1.0"/><circle cx="185.3" cy="113.2" r="1.0"/><circle cx="192.9" cy="112.9" r="1.0"/><circle cx="186.8" cy="112.3" r="1.0"/><circle cx="189.8" cy="112.0" r="1.0"/><circle cx="183.8" cy="111.5" r="1.0"/><circle cx="193.6" cy="111.3" r="1.0"/><circle cx="187.6" cy="111.2" r="1.0"/><circle cx="190.6" cy="111.2" r="1.0"/><circle cx="184.6" cy="111.0" r="1.0"/><circle cx="192.0" cy="110.9" r="1.0"/><circle cx="186.1" cy="110.7" r="1.0"/><circle cx="189.1" cy="110.3" r="1.0"/><circle cx="183.3" cy="110.2" r="1.0"/><circle cx="194.2" cy="109.9" r="1.0"/><circle cx="188.5" cy="109.8" r="1.0"/><circle cx="191.4" cy="109.6" r="1.0"/><circle cx="185.7" cy="109.5" r="1.0"/><circle cx="192.7" cy="109.4" r="1.0"/><circle cx="187.2" cy="109.0" r="1.0"/><circle cx="189.8" cy="108.0" r="1.0"/><circle cx="184.8" cy="107.8" r="1.0"/><circle cx="192.9" cy="107.6" r="1.0"/><circle cx="188.0" cy="107.4" r="1.0"/><circle cx="190.3" cy="107.1" r="1.0"/><circle cx="186.0" cy="106.1" r="1.0"/><circle cx="191.2" cy="105.7" r="1.0"/><circle cx="187.2" cy="105.4" r="1.0"/><circle cx="189.1" cy="104.9" r="1.0"/><circle cx="185.6" cy="104.5" r="1.0"/><circle cx="191.5" cy="103.5" r="1.0"/><circle cx="188.5" cy="103.3" r="1.0"/><circle cx="189.9" cy="103.0" r="1.0"/><circle cx="187.4" cy="101.8" r="1.0"/><circle cx="190.3" cy="101.3" r="1.0"/><circle cx="188.0" cy="100.7" r="1.0"/><circle cx="189.2" cy="100.3" r="1.0"/><circle cx="186.9" cy="99.3" r="1.0"/><circle cx="190.6" cy="98.7" r="1.0"/><circle cx="188.3" cy="98.7" r="1.0"/><circle cx="189.5" cy="98.5" r="1.0"/><circle cx="187.2" cy="93.5" r="1.0"/><circle cx="190.0" cy="91.3" r="1.0"/><circle cx="187.7" cy="90.9" r="1.0"/><circle cx="188.9" cy="80.5" r="1.0"/><circle cx="188.9" cy="65.4" r="1.2" fill="#444"/><circle cx="187.9" cy="213.7" r="1.2" fill="#444"/><circle cx="189.8" cy="213.7" r="1.2" fill="#444"/><circle cx="220.3" cy="155.0" r="1.0"/><circle cx="218.0" cy="142.1" r="1.0"/><circle cx="220.9" cy="140.6" r="1.0"/><circle cx="218.6" cy="140.0" r="1.0"/><circle cx="219.8" cy="137.0" r="1.0"/><circle cx="217.5" cy="136.9" r="1.0"/><circle cx="221.2" cy="136.4" r="1.0"/><circle cx="218.9" cy="134.8" r="1.0"/><circle cx="220.1" cy="132.7" r="1.0"/><circle cx="217.7" cy="132.3" r="1.0"/><circle cx="220.6" cy="131.9" r="1.0"/><circle cx="218.3" cy="131.7" r="1.0"/><circle cx="219.5" cy="128.9" r="1.0"/><circle cx="217.2" cy="128.6" r="1.0"/><circle cx="221.7" cy="128.4" r="1.0"/><circle cx="219.4" cy="128.1" r="1.0"/><circle cx="220.5" cy="128.1" r="1.0"/><circle cx="218.1" cy="127.3" r="1.0"/><circle cx="221.3" cy="127.2" r="1.0"/><circle cx="218.7" cy="126.9" r="1.0"/><circle cx="220.1" cy="126.2" r="1.0"/><circle cx="216.8" cy="125.9" r="1.0"/><circle cx="222.7" cy="125.2" r="1.0"/><circle cx="218.8" cy="125.0" r="1.0"/><circle cx="221.1" cy="124.1" r="1.0"/><circle cx="216.3" cy="123.9" r="1.0"/><circle cx="222.5" cy="123.6" r="1.0"/><circle cx="217.3" cy="123.3" r="1.0"/><circle cx="220.0" cy="122.9" r="1.0"/><circle cx="214.4" cy="122.9" r="1.0"/><circle cx="224.6" cy="122.9" r="1.0"/><circle cx="218.8" cy="121.4" r="1.0"/><circle cx="222.3" cy="121.4" r="1.0"/><circle cx="215.0" cy="120.7" r="1.0"/><circle cx="224.5" cy="120.5" r="1.0"/><circle cx="216.8" cy="120.3" r="1.0"/><circle cx="220.7" cy="120.2" r="1.0"/><circle cx="212.7" cy="120.1" r="1.0"/><circle cx="225.8" cy="120.0" r="1.0"/><circle cx="217.7" cy="119.9" r="1.0"/><circle cx="221.8" cy="119.9" r="1.0"/><circle cx="213.6" cy="119.9" r="1.0"/><circle cx="223.9" cy="119.9" r="1.0"/><circle cx="215.4" cy="119.2" r="1.0"/><circle cx="219.8" cy="119.0" r="1.0"/><circle cx="210.9" cy="119.0" r="1.0"/><circle cx="227.9" cy="118.9" r="1.0"/><circle cx="218.9" cy="118.8" r="1.0"/><circle cx="223.5" cy="118.6" r="1.0"/><circle cx="214.3" cy="118.4" r="1.0"/><circle cx="225.9" cy="118.2" r="1.0"/><circle cx="216.6" cy="118.1" r="1.0"/><circle cx="221.3" cy="117.4" r="1.0"/><circle cx="211.5" cy="117.4" r="1.0"/><circle cx="227.5" cy="117.2" r="1.0"/><circle cx="217.6" cy="117.1" r="1.0"/><circle cx="222.7" cy="116.7" r="1.0"/><circle cx="212.5" cy="116.7" r="1.0"/><circle cx="225.2" cy="116.6" r="1.0"/><circle cx="215.0" cy="116.5" r="1.0"/><circle cx="220.1" cy="115.8" r="1.0"/><circle cx="209.8" cy="115.8" r="1.0"/><circle cx="228.6" cy="115.7" r="1.0"/><circle cx="218.2" cy="115.6" r="1.0"/><circle cx="223.4" cy="115.1" r="1.0"/><circle cx="212.9" cy="114.7" r="1.0"/><circle cx="226.1" cy="114.5" r="1.0"/><circle cx="215.6" cy="114.0" r="1.0"/><circle cx="220.8" cy="114.0" r="1.0"/><circle cx="210.3" cy="114.0" r="1.0"/><circle cx="227.4" cy="113.9" r="1.0"/><circle cx="216.9" cy="113.8" r="1.0"/><circle cx="222.1" cy="113.8" r="1.0"/><circle cx="211.7" cy="113.6" r="1.0"/><circle cx="224.7" cy="113.6" r="1.0"/><circle cx="214.3" cy="113.1" r="1.0"/><circle cx="219.5" cy="113.1" r="1.0"/><circle cx="209.2" cy="112.8" r="1.0"/><circle cx="229.5" cy="112.7" r="1.0"/><circle cx="219.3" cy="112.5" r="1.0"/><circle cx="224.3" cy="112.0" r="1.0"/><circle cx="214.5" cy="110.8" r="1.0"/><circle cx="226.4" cy="110.6" r="1.0"/><circle cx="216.9" cy="110.6" r="1.0"/><circle cx="221.6" cy="110.5" r="1.0"/><circle cx="212.2" cy="110.3" r="1.0"/><circle cx="227.4" cy="110.1" r="1.0"/><circle cx="218.1" cy="110.1" r="1.0"/><circle cx="222.7" cy="109.8" r="1.0"/><circle cx="213.6" cy="109.6" r="1.0"/><circle cx="224.9" cy="109.5" r="1.0"/><circle cx="215.9" cy="109.4" r="1.0"/><circle cx="220.4" cy="109.4" r="1.0"/><circle cx="211.6" cy="109.2" r="1.0"/><circle cx="227.5" cy="109.1" r="1.0"/><circle cx="218.8" cy="108.1" r="1.0"/><circle cx="222.9" cy="108.1" r="1.0"/><circle cx="214.7" cy="108.1" r="1.0"/><circle cx="224.7" cy="107.4" r="1.0"/><circle cx="216.9" cy="107.1" r="1.0"/><circle cx="220.7" cy="106.9" r="1.0"/><circle cx="213.4" cy="106.4" r="1.0"/><circle cx="225.2" cy="106.4" r="1.0"/><circle cx="217.9" cy="106.4" r="1.0"/><circle cx="221.6" cy="106.3" r="1.0"/><circle cx="214.4" cy="106.1" r="1.0"/><circle cx="223.3" cy="105.9" r="1.0"/><circle cx="216.4" cy="105.3" r="1.0"/><circle cx="219.7" cy="105.2" r="1.0"/><circle cx="213.2" cy="104.8" r="1.0"/><circle cx="225.3" cy="104.1" r="1.0"/><circle cx="219.1" cy="104.0" r="1.0"/><circle cx="222.2" cy="103.7" r="1.0"/><circle cx="216.1" cy="103.6" r="1.0"/><circle cx="223.6" cy="103.4" r="1.0"/><circle cx="217.7" cy="103.1" r="1.0"/><circle cx="220.6" cy="102.9" r="1.0"/><circle cx="214.9" cy="102.7" r="1.0"/><circle cx="223.9" cy="101.4" r="1.0"/><circle cx="218.5" cy="100.9" r="1.0"/><circle cx="221.1" cy="100.6" r="1.0"/><circle cx="215.9" cy="100.6" r="1.0"/><circle cx="222.4" cy="100.0" r="1.0"/><circle cx="217.3" cy="99.6" r="1.0"/><circle cx="219.8" cy="99.5" r="1.0"/><circle cx="214.8" cy="98.8" r="1.0"/><circle cx="223.9" cy="98.0" r="1.0"/><circle cx="218.9" cy="97.9" r="1.0"/><circle cx="221.4" cy="97.7" r="1.0"/><circle cx="216.4" cy="97.2" r="1.0"/><circle cx="222.6" cy="97.2" r="1.0"/><circle cx="217.6" cy="97.2" r="1.0"/><circle cx="220.1" cy="97.1" r="1.0"/><circle cx="215.1" cy="96.2" r="1.0"/><circle cx="223.3" cy="96.2" r="1.0"/><circle cx="218.2" cy="95.2" r="1.0"/><circle cx="220.8" cy="94.9" r="1.0"/><circle cx="215.6" cy="94.9" r="1.0"/><circle cx="222.1" cy="94.3" r="1.0"/><circle cx="216.9" cy="94.1" r="1.0"/><circle cx="219.5" cy="93.8" r="1.0"/><circle cx="214.2" cy="93.4" r="1.0"/><circle cx="224.6" cy="93.0" r="1.0"/><circle cx="219.3" cy="92.6" r="1.0"/><circle cx="221.9" cy="92.1" r="1.0"/><circle cx="216.6" cy="92.1" r="1.0"/><circle cx="223.2" cy="92.0" r="1.0"/><circle cx="217.9" cy="92.0" r="1.0"/><circle cx="220.6" cy="91.8" r="1.0"/><circle cx="215.3" cy="91.5" r="1.0"/><circle cx="223.9" cy="91.2" r="1.0"/><circle cx="218.6" cy="90.9" r="1.0"/><circle cx="221.2" cy="90.9" r="1.0"/><circle cx="216.0" cy="90.8" r="1.0"/><circle cx="222.6" cy="90.8" r="1.0"/><circle cx="217.3" cy="90.6" r="1.0"/><circle cx="219.9" cy="90.4" r="1.0"/><circle cx="214.7" cy="90.3" r="1.0"/><circle cx="224.1" cy="90.0" r="1.0"/><circle cx="218.9" cy="89.0" r="1.0"/><circle cx="221.4" cy="88.5" r="1.0"/><circle cx="216.5" cy="88.5" r="1.0"/><circle cx="222.6" cy="87.7" r="1.0"/><circle cx="217.9" cy="86.4" r="1.0"/><circle cx="220.1" cy="86.2" r="1.0"/><circle cx="215.7" cy="86.1" r="1.0"/><circle cx="222.8" cy="86.0" r="1.0"/><circle cx="218.5" cy="85.9" r="1.0"/><circle cx="220.6" cy="85.5" r="1.0"/><circle cx="216.5" cy="85.2" r="1.0"/><circle cx="221.6" cy="85.1" r="1.0"/><circle cx="217.5" cy="85.1" r="1.0"/><circle cx="219.5" cy="85.1" r="1.0"/><circle cx="215.6" cy="84.7" r="1.0"/><circle cx="223.0" cy="84.4" r="1.0"/><circle cx="219.2" cy="84.1" r="1.0"/><circle cx="221.0" cy="83.9" r="1.0"/><circle cx="217.4" cy="83.6" r="1.0"/><circle cx="221.7" cy="82.7" r="1.0"/><circle cx="218.5" cy="81.8" r="1.0"/><circle cx="220.0" cy="81.7" r="1.0"/><circle cx="217.0" cy="81.6" r="1.0"/><circle cx="221.6" cy="80.8" r="1.0"/><circle cx="218.9" cy="80.5" r="1.0"/><circle cx="220.2" cy="80.1" r="1.0"/><circle cx="217.8" cy="80.0" r="1.0"/><circle cx="220.7" cy="79.2" r="1.0"/><circle cx="218.4" cy="79.0" r="1.0"/><circle cx="219.6" cy="77.1" r="1.0"/><circle cx="217.3" cy="76.9" r="1.0"/><circle cx="221.4" cy="76.4" r="1.0"/><circle cx="219.1" cy="76.2" r="1.0"/><circle cx="220.3" cy="76.2" r="1.0"/><circle cx="218.0" cy="75.7" r="1.0"/><circle cx="220.9" cy="75.6" r="1.0"/><circle cx="218.6" cy="75.1" r="1.0"/><circle cx="219.7" cy="73.8" r="1.0"/><circle cx="217.4" cy="73.1" r="1.0"/><circle cx="221.2" cy="71.7" r="1.0"/><circle cx="218.8" cy="70.2" r="1.0"/><circle cx="220.0" cy="70.0" r="1.0"/><circle cx="217.7" cy="69.0" r="1.0"/><circle cx="220.6" cy="66.4" r="1.0"/><circle cx="218.3" cy="61.7" r="1.0"/><circle cx="219.4" cy="53.2" r="1.0"/><circle cx="219.4" cy="50.0" r="1.2" fill="#444"/><circle cx="219.4" cy="163.6" r="1.2" fill="#444"/><circle cx="219.4" cy="183.0" r="1.2" fill="#444"/><circle cx="219.4" cy="205.0" r="1.2" fill="#444"/><circle cx="218.5" cy="213.7" r="1.2" fill="#444"/><circle cx="220.4" cy="213.7" r="1.2" fill="#444"/><circle cx="248.6" cy="156.0" r="1.0"/><circle cx="250.9" cy="156.0" r="1.0"/><circle cx="251.4" cy="149.9" r="1.0"/><circle cx="249.1" cy="148.6" r="1.0"/><circle cx="250.3" cy="148.5" r="1.0"/><circle cx="248.0" cy="146.7" r="1.0"/><circle cx="251.7" cy="143.1" r="1.0"/><circle cx="249.4" cy="140.4" r="1.0"/><circle cx="250.6" cy="138.9" r="1.0"/><circle cx="248.3" cy="136.9" r="1.0"/><circle cx="251.2" cy="136.7" r="1.0"/><circle cx="248.8" cy="135.8" r="1.0"/><circle cx="250.0" cy="135.8" r="1.0"/><circle cx="247.7" cy="135.0" r="1.0"/><circle cx="252.2" cy="134.9" r="1.0"/><circle cx="249.9" cy="134.8" r="1.0"/><circle cx="251.1" cy="134.7" r="1.0"/><circle cx="248.7" cy="134.6" r="1.0"/><circle cx="251.6" cy="133.5" r="1.0"/><circle cx="249.3" cy="133.0" r="1.0"/><circle cx="250.5" cy="132.7" r="1.0"/><circle cx="248.2" cy="132.3" r="1.0"/><circle cx="252.1" cy="131.6" r="1.0"/><circle cx="249.6" cy="131.2" r="1.0"/><circle cx="250.9" cy="131.1" r="1.0"/><circle cx="248.2" cy="131.0" r="1.0"/><circle cx="251.7" cy="130.4" r="1.0"/><circle cx="248.8" cy="130.4" r="1.0"/><circle cx="250.2" cy="130.3" r="1.0"/><circle cx="247.3" cy="130.1" r="1.0"/><circle cx="252.7" cy="129.6" r="1.0"/><circle cx="249.7" cy="129.2" r="1.0"/><circle cx="251.3" cy="128.6" r="1.0"/><circle cx="248.0" cy="128.6" r="1.0"/><circle cx="252.1" cy="128.6" r="1.0"/><circle cx="248.8" cy="128.5" r="1.0"/><circle cx="250.5" cy="127.4" r="1.0"/><circle cx="247.0" cy="126.9" r="1.0"/><circle cx="252.8" cy="126.9" r="1.0"/><circle cx="249.2" cy="126.7" r="1.0"/><circle cx="251.0" cy="126.6" r="1.0"/><circle cx="247.4" cy="126.5" r="1.0"/><circle cx="252.0" cy="125.6" r="1.0"/><circle cx="248.2" cy="125.3" r="1.0"/><circle cx="250.1" cy="124.6" r="1.0"/><circle cx="246.1" cy="124.4" r="1.0"/><circle cx="253.8" cy="124.3" r="1.0"/><circle cx="249.7" cy="123.9" r="1.0"/><circle cx="251.8" cy="123.5" r="1.0"/><circle cx="247.6" cy="123.4" r="1.0"/><circle cx="253.0" cy="122.8" r="1.0"/><circle cx="248.6" cy="122.8" r="1.0"/><circle cx="250.9" cy="122.1" r="1.0"/><circle cx="246.2" cy="122.0" r="1.0"/><circle cx="253.9" cy="121.5" r="1.0"/><circle cx="249.1" cy="121.3" r="1.0"/><circle cx="251.6" cy="121.0" r="1.0"/><circle cx="246.5" cy="120.9" r="1.0"/><circle cx="252.9" cy="120.6" r="1.0"/><circle cx="247.6" cy="119.9" r="1.0"/><circle cx="250.3" cy="119.8" r="1.0"/><circle cx="244.5" cy="119.4" r="1.0"/><circle cx="255.2" cy="119.2" r="1.0"/><circle cx="249.2" cy="118.7" r="1.0"/><circle cx="252.4" cy="118.4" r="1.0"/><circle cx="245.9" cy="118.2" r="1.0"/><circle cx="254.1" cy="118.1" r="1.0"/><circle cx="247.5" cy="117.9" r="1.0"/><circle cx="250.9" cy="117.6" r="1.0"/><circle cx="243.6" cy="117.0" r="1.0"/><circle cx="255.8" cy="116.4" r="1.0"/><circle cx="248.1" cy="116.4" r="1.0"/><circle cx="252.0" cy="116.2" r="1.0"/><circle cx="244.0" cy="116.1" r="1.0"/><circle cx="254.1" cy="115.8" r="1.0"/><circle cx="245.9" cy="115.6" r="1.0"/><circle cx="250.0" cy="115.4" r="1.0"/><circle cx="241.4" cy="115.2" r="1.0"/><circle cx="258.6" cy="114.9" r="1.0"/><circle cx="249.8" cy="114.9" r="1.0"/><circle cx="254.3" cy="114.6" r="1.0"/><circle cx="245.3" cy="114.6" r="1.0"/><circle cx="256.8" cy="114.0" r="1.0"/><circle cx="247.5" cy="114.0" r="1.0"/><circle cx="252.2" cy="113.9" r="1.0"/><circle cx="242.7" cy="113.8" r="1.0"/><circle cx="258.2" cy="113.7" r="1.0"/><circle cx="248.6" cy="113.4" r="1.0"/><circle cx="253.4" cy="113.4" r="1.0"/><circle cx="243.7" cy="113.3" r="1.0"/><circle cx="256.0" cy="113.0" r="1.0"/><circle cx="246.1" cy="112.8" r="1.0"/><circle cx="251.0" cy="112.6" r="1.0"/><circle cx="240.9" cy="112.3" r="1.0"/><circle cx="259.4" cy="112.0" r="1.0"/><circle cx="249.1" cy="112.0" r="1.0"/><circle cx="254.4" cy="110.8" r="1.0"/><circle cx="243.9" cy="110.6" r="1.0"/><circle cx="257.0" cy="110.5" r="1.0"/><circle cx="246.5" cy="110.5" r="1.0"/><circle cx="251.8" cy="110.3" r="1.0"/><circle cx="241.3" cy="110.2" r="1.0"/><circle cx="258.3" cy="110.1" r="1.0"/><circle cx="247.8" cy="110.0" r="1.0"/><circle cx="253.1" cy="109.9" r="1.0"/><circle cx="242.6" cy="109.9" r="1.0"/><circle cx="255.7" cy="109.7" r="1.0"/><circle cx="245.2" cy="109.5" r="1.0"/><circle cx="250.4" cy="109.5" r="1.0"/><circle cx="240.1" cy="109.3" r="1.0"/><circle cx="259.8" cy="109.0" r="1.0"/><circle cx="249.5" cy="109.0" r="1.0"/><circle cx="254.6" cy="108.5" r="1.0"/><circle cx="244.4" cy="108.2" r="1.0"/><circle cx="257.0" cy="108.1" r="1.0"/><circle cx="247.0" cy="108.1" r="1.0"/><circle cx="252.0" cy="108.0" r="1.0"/><circle cx="242.0" cy="108.0" r="1.0"/><circle cx="258.1" cy="107.7" r="1.0"/><circle cx="248.3" cy="107.7" r="1.0"/><circle cx="253.2" cy="107.5" r="1.0"/><circle cx="243.4" cy="107.4" r="1.0"/><circle cx="255.4" cy="106.7" r="1.0"/><circle cx="246.0" cy="106.7" r="1.0"/><circle cx="250.7" cy="106.5" r="1.0"/><circle cx="241.3" cy="106.4" r="1.0"/><circle cx="258.3" cy="106.4" r="1.0"/><circle cx="248.9" cy="106.1" r="1.0"/><circle cx="253.4" cy="105.0" r="1.0"/><circle cx="244.6" cy="105.0" r="1.0"/><circle cx="255.5" cy="104.8" r="1.0"/><circle cx="246.9" cy="104.5" r="1.0"/><circle cx="251.1" cy="104.3" r="1.0"/><circle cx="242.8" cy="103.6" r="1.0"/><circle cx="256.2" cy="103.1" r="1.0"/><circle cx="248.0" cy="103.0" r="1.0"/><circle cx="252.1" cy="102.8" r="1.0"/><circle cx="244.0" cy="102.6" r="1.0"/><circle cx="254.1" cy="102.6" r="1.0"/><circle cx="246.0" cy="102.3" r="1.0"/><circle cx="250.1" cy="102.3" r="1.0"/><circle cx="242.0" cy="102.1" r="1.0"/><circle cx="257.7" cy="102.0" r="1.0"/><circle cx="249.7" cy="101.1" r="1.0"/><circle cx="253.7" cy="100.6" r="1.0"/><circle cx="245.7" cy="100.6" r="1.0"/><circle cx="255.6" cy="99.5" r="1.0"/><circle cx="247.7" cy="99.3" r="1.0"/><circle cx="251.7" cy="99.1" r="1.0"/><circle cx="243.8" cy="99.0" r="1.0"/><circle cx="256.6" cy="98.8" r="1.0"/><circle cx="248.7" cy="98.8" r="1.0"/><circle cx="252.7" cy="98.7" r="1.0"/><circle cx="244.8" cy="98.2" r="1.0"/><circle cx="254.6" cy="97.9" r="1.0"/><circle cx="246.8" cy="97.9" r="1.0"/><circle cx="250.7" cy="97.8" r="1.0"/><circle cx="242.9" cy="97.8" r="1.0"/><circle cx="257.0" cy="97.7" r="1.0"/><circle cx="249.2" cy="97.7" r="1.0"/><circle cx="253.1" cy="97.3" r="1.0"/><circle cx="245.4" cy="97.3" r="1.0"/><circle cx="255.0" cy="97.2" r="1.0"/><circle cx="247.3" cy="97.0" r="1.0"/><circle cx="251.1" cy="96.2" r="1.0"/><circle cx="243.9" cy="95.9" r="1.0"/><circle cx="255.5" cy="95.8" r="1.0"/><circle cx="248.4" cy="95.8" r="1.0"/><circle cx="252.0" cy="95.8" r="1.0"/><circle cx="244.9" cy="95.5" r="1.0"/><circle cx="253.6" cy="95.2" r="1.0"/><circle cx="246.8" cy="95.1" r="1.0"/><circle cx="250.2" cy="95.1" r="1.0"/><circle cx="243.5" cy="94.9" r="1.0"/><circle cx="255.9" cy="94.4" r="1.0"/><circle cx="249.6" cy="94.3" r="1.0"/><circle cx="252.7" cy="94.3" r="1.0"/><circle cx="246.5" cy="94.0" r="1.0"/><circle cx="254.0" cy="93.7" r="1.0"/><circle cx="248.3" cy="92.9" r="1.0"/><circle cx="250.9" cy="92.8" r="1.0"/><circle cx="245.9" cy="92.7" r="1.0"/><circle cx="253.9" cy="92.4" r="1.0"/><circle cx="249.1" cy="92.2" r="1.0"/><circle cx="251.3" cy="91.8" r="1.0"/><circle cx="247.0" cy="91.8" r="1.0"/><circle cx="252.3" cy="91.7" r="1.0"/><circle cx="248.1" cy="91.5" r="1.0"/><circle cx="250.2" cy="91.2" r="1.0"/><circle cx="246.8" cy="90.6" r="1.0"/><circle cx="252.7" cy="90.3" r="1.0"/><circle cx="249.6" cy="90.2" r="1.0"/><circle cx="250.9" cy="89.3" r="1.0"/><circle cx="248.5" cy="88.7" r="1.0"/><circle cx="251.4" cy="88.5" r="1.0"/><circle cx="249.1" cy="88.3" r="1.0"/><circle cx="250.2" cy="86.8" r="1.0"/><circle cx="247.9" cy="86.8" r="1.0"/><circle cx="251.7" cy="86.1" r="1.0"/><circle cx="249.4" cy="85.4" r="1.0"/><circle cx="250.5" cy="84.2" r="1.0"/><circle cx="248.2" cy="83.1" r="1.0"/><circle cx="251.1" cy="81.2" r="1.0"/><circle cx="248.8" cy="80.7" r="1.0"/><circle cx="249.9" cy="74.2" r="1.0"/><circle cx="249.9" cy="163.0" r="1.2" fill="#444"/><circle cx="249.9" cy="213.7" r="1.2" fill="#444"/><circle cx="281.4" cy="131.6" r="1.0"/><circle cx="279.1" cy="123.2" r="1.0"/><circle cx="282.0" cy="122.1" r="1.0"/><circle cx="279.7" cy="122.1" r="1.0"/><circle cx="280.8" cy="121.8" r="1.0"/><circle cx="278.5" cy="121.4" r="1.0"/><circle cx="282.3" cy="121.2" r="1.0"/><circle cx="280.0" cy="121.2" r="1.0"/><circle cx="281.1" cy="121.0" r="1.0"/><circle cx="278.8" cy="120.5" r="1.0"/><circle cx="281.7" cy="120.0" r="1.0"/><circle cx="279.4" cy="119.8" r="1.0"/><circle cx="280.5" cy="119.7" r="1.0"/><circle cx="278.2" cy="119.4" r="1.0"/><circle cx="282.7" cy="119.2" r="1.0"/><circle cx="280.4" cy="119.2" r="1.0"/><circle cx="281.6" cy="118.8" r="1.0"/><circle cx="279.3" cy="118.6" r="1.0"/><circle cx="282.2" cy="118.5" r="1.0"/><circle cx="279.8" cy="117.6" r="1.0"/><circle cx="281.1" cy="117.2" r="1.0"/><circle cx="278.2" cy="116.9" r="1.0"/><circle cx="283.2" cy="116.5" r="1.0"/><circle cx="280.0" cy="116.3" r="1.0"/><circle cx="281.6" cy="116.2" r="1.0"/><circle cx="278.3" cy="116.0" r="1.0"/><circle cx="282.6" cy="115.8" r="1.0"/><circle cx="279.0" cy="115.6" r="1.0"/><circle cx="280.9" cy="115.6" r="1.0"/><circle cx="277.1" cy="115.5" r="1.0"/><circle cx="284.0" cy="115.3" r="1.0"/><circle cx="280.1" cy="115.3" r="1.0"/><circle cx="282.1" cy="115.2" r="1.0"/><circle cx="278.1" cy="115.1" r="1.0"/><circle cx="283.5" cy="114.4" r="1.0"/><circle cx="278.8" cy="113.9" r="1.0"/><circle cx="281.3" cy="113.8" r="1.0"/><circle cx="276.1" cy="113.8" r="1.0"/><circle cx="284.6" cy="113.7" r="1.0"/><circle cx="279.3" cy="113.3" r="1.0"/><circle cx="282.2" cy="113.0" r="1.0"/><circle cx="276.2" cy="113.0" r="1.0"/><circle cx="283.7" cy="112.9" r="1.0"/><circle cx="277.6" cy="112.6" r="1.0"/><circle cx="280.7" cy="112.6" r="1.0"/><circle cx="274.3" cy="112.5" r="1.0"/><circle cx="286.8" cy="112.3" r="1.0"/><circle cx="280.1" cy="111.9" r="1.0"/><circle cx="283.8" cy="111.7" r="1.0"/><circle cx="276.3" cy="111.6" r="1.0"/><circle cx="286.2" cy="111.1" r="1.0"/><circle cx="278.0" cy="111.1" r="1.0"/><circle cx="282.1" cy="110.9" r="1.0"/><circle cx="273.6" cy="110.8" r="1.0"/><circle cx="287.5" cy="110.8" r="1.0"/><circle cx="278.9" cy="110.6" r="1.0"/><circle cx="283.3" cy="110.5" r="1.0"/><circle cx="274.2" cy="110.2" r="1.0"/><circle cx="285.9" cy="109.9" r="1.0"/><circle cx="276.3" cy="109.7" r="1.0"/><circle cx="281.2" cy="109.4" r="1.0"/><circle cx="271.1" cy="109.2" r="1.0"/><circle cx="289.4" cy="109.2" r="1.0"/><circle cx="279.3" cy="109.2" r="1.0"/><circle cx="284.4" cy="109.1" r="1.0"/><circle cx="274.2" cy="108.9" r="1.0"/><circle cx="287.0" cy="108.7" r="1.0"/><circle cx="276.7" cy="108.6" r="1.0"/><circle cx="281.9" cy="108.6" r="1.0"/><circle cx="271.4" cy="108.3" r="1.0"/><circle cx="288.4" cy="108.2" r="1.0"/><circle cx="277.9" cy="108.1" r="1.0"/><circle cx="283.2" cy="108.0" r="1.0"/><circle cx="272.7" cy="108.0" r="1.0"/><circle cx="285.8" cy="108.0" r="1.0"/><circle cx="275.3" cy="107.8" r="1.0"/><circle cx="280.6" cy="107.8" r="1.0"/><circle cx="270.1" cy="107.8" r="1.0"/><circle cx="290.8" cy="107.7" r="1.0"/><circle cx="280.3" cy="107.7" r="1.0"/><circle cx="285.6" cy="107.7" r="1.0"/><circle cx="275.1" cy="107.7" r="1.0"/><circle cx="288.2" cy="107.6" r="1.0"/><circle cx="277.7" cy="107.6" r="1.0"/><circle cx="282.9" cy="107.6" r="1.0"/><circle cx="272.5" cy="107.5" r="1.0"/><circle cx="289.4" cy="107.2" r="1.0"/><circle cx="279.0" cy="107.1" r="1.0"/><circle cx="284.1" cy="107.0" r="1.0"/><circle cx="274.0" cy="106.9" r="1.0"/><circle cx="286.6" cy="106.8" r="1.0"/><circle cx="276.6" cy="106.8" r="1.0"/><circle cx="281.6" cy="106.7" r="1.0"/><circle cx="271.6" cy="106.7" r="1.0"/><circle cx="289.5" cy="106.5" r="1.0"/><circle cx="279.7" cy="106.4" r="1.0"/><circle cx="284.5" cy="106.2" r="1.0"/><circle cx="275.0" cy="106.2" r="1.0"/><circle cx="286.8" cy="106.1" r="1.0"/><circle cx="277.5" cy="105.8" r="1.0"/><circle cx="282.0" cy="105.7" r="1.0"/><circle cx="273.3" cy="105.4" r="1.0"/><circle cx="287.2" cy="105.3" r="1.0"/><circle cx="278.8" cy="105.0" r="1.0"/><circle cx="282.8" cy="104.7" r="1.0"/><circle cx="275.2" cy="104.5" r="1.0"/><circle cx="284.4" cy="104.3" r="1.0"/><circle cx="277.3" cy="104.2" r="1.0"/><circle cx="280.8" cy="104.1" r="1.0"/><circle cx="274.3" cy="103.8" r="1.0"/><circle cx="286.5" cy="103.6" r="1.0"/><circle cx="280.2" cy="103.4" r="1.0"/><circle cx="283.1" cy="103.3" r="1.0"/><circle cx="277.4" cy="103.0" r="1.0"/><circle cx="284.2" cy="102.8" r="1.0"/><circle cx="278.9" cy="102.6" r="1.0"/><circle cx="281.5" cy="102.4" r="1.0"/><circle cx="276.9" cy="101.9" r="1.0"/><circle cx="284.1" cy="101.8" r="1.0"/><circle cx="279.7" cy="101.7" r="1.0"/><circle cx="281.9" cy="101.5" r="1.0"/><circle cx="277.8" cy="101.1" r="1.0"/><circle cx="282.7" cy="101.0" r="1.0"/><circle cx="279.0" cy="100.5" r="1.0"/><circle cx="280.8" cy="100.2" r="1.0"/><circle cx="277.3" cy="100.1" r="1.0"/><circle cx="283.5" cy="99.9" r="1.0"/><circle cx="280.1" cy="99.7" r="1.0"/><circle cx="281.8" cy="99.6" r="1.0"/><circle cx="278.5" cy="99.6" r="1.0"/><circle cx="282.6" cy="99.4" r="1.0"/><circle cx="279.4" cy="98.6" r="1.0"/><circle cx="280.9" cy="98.0" r="1.0"/><circle cx="277.8" cy="97.8" r="1.0"/><circle cx="282.9" cy="97.5" r="1.0"/><circle cx="279.7" cy="97.4" r="1.0"/><circle cx="281.3" cy="97.3" r="1.0"/><circle cx="278.1" cy="97.0" r="1.0"/><circle cx="282.2" cy="96.5" r="1.0"/><circle cx="278.9" cy="96.3" r="1.0"/><circle cx="280.5" cy="96.0" r="1.0"/><circle cx="277.1" cy="95.6" r="1.0"/><circle cx="283.8" cy="95.6" r="1.0"/><circle cx="280.4" cy="95.2" r="1.0"/><circle cx="282.1" cy="95.2" r="1.0"/><circle cx="278.6" cy="94.9" r="1.0"/><circle cx="283.1" cy="94.6" r="1.0"/><circle cx="279.4" cy="94.4" r="1.0"/><circle cx="281.3" cy="94.3" r="1.0"/><circle cx="277.6" cy="94.2" r="1.0"/><circle cx="283.7" cy="93.8" r="1.0"/><circle cx="279.9" cy="93.7" r="1.0"/><circle cx="281.8" cy="93.6" r="1.0"/><circle cx="278.0" cy="93.4" r="1.0"/><circle cx="282.7" cy="93.2" r="1.0"/><circle cx="278.9" cy="93.2" r="1.0"/><circle cx="280.8" cy="92.9" r="1.0"/><circle cx="277.0" cy="92.8" r="1.0"/><circle cx="283.9" cy="92.8" r="1.0"/><circle cx="280.1" cy="92.6" r="1.0"/><circle cx="282.0" cy="92.3" r="1.0"/><circle cx="278.3" cy="92.3" r="1.0"/><circle cx="282.9" cy="92.1" r="1.0"/><circle cx="279.2" cy="92.0" r="1.0"/><circle cx="281.1" cy="91.7" r="1.0"/><circle cx="277.5" cy="91.1" r="1.0"/><circle cx="283.2" cy="91.0" r="1.0"/><circle cx="279.7" cy="90.9" r="1.0"/><circle cx="281.5" cy="90.9" r="1.0"/><circle cx="278.0" cy="90.9" r="1.0"/><circle cx="282.3" cy="90.7" r="1.0"/><circle cx="279.0" cy="90.0" r="1.0"/><circle cx="280.6" cy="89.9" r="1.0"/><circle cx="277.6" cy="89.7" r="1.0"/><circle cx="283.2" cy="89.5" r="1.0"/><circle cx="280.3" cy="89.4" r="1.0"/><circle cx="281.7" cy="89.1" r="1.0"/><circle cx="279.0" cy="88.9" r="1.0"/><circle cx="282.3" cy="88.9" r="1.0"/><circle cx="279.7" cy="88.8" r="1.0"/><circle cx="280.9" cy="88.7" r="1.0"/><circle cx="278.6" cy="88.0" r="1.0"/><circle cx="282.4" cy="87.8" r="1.0"/><circle cx="280.0" cy="87.5" r="1.0"/><circle cx="281.2" cy="86.6" r="1.0"/><circle cx="278.9" cy="86.5" r="1.0"/><circle cx="281.8" cy="85.7" r="1.0"/><circle cx="279.5" cy="85.6" r="1.0"/><circle cx="280.6" cy="85.5" r="1.0"/><circle cx="278.3" cy="85.4" r="1.0"/><circle cx="282.5" cy="85.3" r="1.0"/><circle cx="280.2" cy="85.1" r="1.0"/><circle cx="281.3" cy="84.2" r="1.0"/><circle cx="279.0" cy="84.0" r="1.0"/><circle cx="281.9" cy="84.0" r="1.0"/><circle cx="279.6" cy="82.6" r="1.0"/><circle cx="280.8" cy="81.5" r="1.0"/><circle cx="278.5" cy="81.5" r="1.0"/><circle cx="282.2" cy="81.4" r="1.0"/><circle cx="279.9" cy="79.8" r="1.0"/><circle cx="281.1" cy="79.2" r="1.0"/><circle cx="278.7" cy="77.9" r="1.0"/><circle cx="281.6" cy="73.6" r="1.0"/><circle cx="279.3" cy="73.6" r="1.0"/><circle cx="280.5" cy="71.0" r="1.0"/><circle cx="280.5" cy="45.3" r="1.2" fill="#444"/><circle cx="280.5" cy="55.6" r="1.2" fill="#444"/><circle cx="280.5" cy="63.5" r="1.2" fill="#444"/><circle cx="280.5" cy="67.9" r="1.2" fill="#444"/><circle cx="279.5" cy="213.7" r="1.2" fill="#444"/><circle cx="281.4" cy="213.7" r="1.2" fill="#444"/><circle cx="311.9" cy="171.5" r="1.0"/><circle cx="309.6" cy="169.5" r="1.0"/><circle cx="312.5" cy="164.7" r="1.0"/><circle cx="310.2" cy="164.4" r="1.0"/><circle cx="311.4" cy="164.1" r="1.0"/><circle cx="309.0" cy="160.5" r="1.0"/><circle cx="312.8" cy="160.3" r="1.0"/><circle cx="310.5" cy="159.2" r="1.0"/><circle cx="311.6" cy="158.3" r="1.0"/><circle cx="309.3" cy="156.2" r="1.0"/><circle cx="312.2" cy="156.1" r="1.0"/><circle cx="309.9" cy="155.1" r="1.0"/><circle cx="311.1" cy="153.8" r="1.0"/><circle cx="308.7" cy="153.8" r="1.0"/><circle cx="313.5" cy="153.3" r="1.0"/><circle cx="310.9" cy="152.5" r="1.0"/><circle cx="312.3" cy="152.2" r="1.0"/><circle cx="309.5" cy="152.0" r="1.0"/><circle cx="313.2" cy="151.5" r="1.0"/><circle cx="310.1" cy="150.4" r="1.0"/><circle cx="311.8" cy="150.4" r="1.0"/><circle cx="308.3" cy="149.6" r="1.0"/><circle cx="314.3" cy="148.6" r="1.0"/><circle cx="310.4" cy="148.6" r="1.0"/><circle cx="312.5" cy="148.1" r="1.0"/><circle cx="308.1" cy="147.0" r="1.0"/><circle cx="313.8" cy="146.8" r="1.0"/><circle cx="309.1" cy="146.4" r="1.0"/><circle cx="311.5" cy="146.3" r="1.0"/><circle cx="306.4" cy="145.3" r="1.0"/><circle cx="316.1" cy="144.3" r="1.0"/><circle cx="310.5" cy="143.8" r="1.0"/><circle cx="313.4" cy="143.8" r="1.0"/><circle cx="307.5" cy="143.4" r="1.0"/><circle cx="315.0" cy="143.4" r="1.0"/><circle cx="308.9" cy="142.8" r="1.0"/><circle cx="312.0" cy="142.8" r="1.0"/><circle cx="305.7" cy="142.6" r="1.0"/><circle cx="316.1" cy="142.1" r="1.0"/><circle cx="309.6" cy="142.1" r="1.0"/><circle cx="312.9" cy="141.8" r="1.0"/><circle cx="306.2" cy="141.3" r="1.0"/><circle cx="314.8" cy="140.7" r="1.0"/><circle cx="307.8" cy="140.6" r="1.0"/><circle cx="311.3" cy="140.4" r="1.0"/><circle cx="304.0" cy="140.0" r="1.0"/><circle cx="317.9" cy="139.9" r="1.0"/><circle cx="310.6" cy="139.8" r="1.0"/><circle cx="314.4" cy="139.2" r="1.0"/><circle cx="306.8" cy="139.1" r="1.0"/><circle cx="316.3" cy="139.1" r="1.0"/><circle cx="308.6" cy="138.4" r="1.0"/><circle cx="312.5" cy="138.3" r="1.0"/><circle cx="304.7" cy="138.1" r="1.0"/><circle cx="317.6" cy="137.1" r="1.0"/><circle cx="309.6" cy="137.1" r="1.0"/><circle cx="313.6" cy="137.0" r="1.0"/><circle cx="305.5" cy="137.0" r="1.0"/><circle cx="315.6" cy="137.0" r="1.0"/><circle cx="307.5" cy="136.8" r="1.0"/><circle cx="311.6" cy="136.7" r="1.0"/><circle cx="303.4" cy="136.6" r="1.0"/><circle cx="318.3" cy="136.4" r="1.0"/><circle cx="310.0" cy="136.2" r="1.0"/><circle cx="314.3" cy="134.9" r="1.0"/><circle cx="305.7" cy="134.5" r="1.0"/><circle cx="316.5" cy="134.3" r="1.0"/><circle cx="307.8" cy="134.0" r="1.0"/><circle cx="312.2" cy="134.0" r="1.0"/><circle cx="303.4" cy="133.5" r="1.0"/><circle cx="317.7" cy="133.4" r="1.0"/><circle cx="308.9" cy="132.9" r="1.0"/><circle cx="313.3" cy="132.8" r="1.0"/><circle cx="304.4" cy="132.4" r="1.0"/><circle cx="315.6" cy="132.1" r="1.0"/><circle cx="306.6" cy="132.0" r="1.0"/><circle cx="311.1" cy="131.0" r="1.0"/><circle cx="301.9" cy="131.0" r="1.0"/><circle cx="320.1" cy="130.5" r="1.0"/><circle cx="310.9" cy="130.4" r="1.0"/><circle cx="315.5" cy="130.4" r="1.0"/><circle cx="306.2" cy="129.8" r="1.0"/><circle cx="317.9" cy="129.8" r="1.0"/><circle cx="308.5" cy="129.6" r="1.0"/><circle cx="313.2" cy="129.5" r="1.0"/><circle cx="303.7" cy="129.3" r="1.0"/><circle cx="319.2" cy="129.0" r="1.0"/><circle cx="309.7" cy="128.8" r="1.0"/><circle cx="314.5" cy="128.7" r="1.0"/><circle cx="304.8" cy="128.6" r="1.0"/><circle cx="317.0" cy="127.9" r="1.0"/><circle cx="307.2" cy="127.5" r="1.0"/><circle cx="312.1" cy="127.4" r="1.0"/><circle cx="302.2" cy="127.4" r="1.0"/><circle cx="320.2" cy="127.0" r="1.0"/><circle cx="310.2" cy="126.7" r="1.0"/><circle cx="315.2" cy="126.6" r="1.0"/><circle cx="305.2" cy="126.2" r="1.0"/><circle cx="317.9" cy="125.4" r="1.0"/><circle cx="307.6" cy="124.6" r="1.0"/><circle cx="312.8" cy="124.6" r="1.0"/><circle cx="302.4" cy="124.5" r="1.0"/><circle cx="319.3" cy="124.4" r="1.0"/><circle cx="308.9" cy="124.2" r="1.0"/><circle cx="314.1" cy="123.9" r="1.0"/><circle cx="303.7" cy="123.8" r="1.0"/><circle cx="316.7" cy="123.8" r="1.0"/><circle cx="306.3" cy="123.7" r="1.0"/><circle cx="311.5" cy="123.6" r="1.0"/><circle cx="301.0" cy="123.1" r="1.0"/><circle cx="321.0" cy="122.6" r="1.0"/><circle cx="310.5" cy="122.4" r="1.0"/><circle cx="315.8" cy="122.0" r="1.0"/><circle cx="305.3" cy="122.0" r="1.0"/><circle cx="318.4" cy="121.9" r="1.0"/><circle cx="307.9" cy="121.8" r="1.0"/><circle cx="313.1" cy="121.6" r="1.0"/><circle cx="302.7" cy="121.5" r="1.0"/><circle cx="319.7" cy="121.4" r="1.0"/><circle cx="309.2" cy="120.8" r="1.0"/><circle cx="314.4" cy="120.7" r="1.0"/><circle cx="304.0" cy="120.6" r="1.0"/><circle cx="317.0" cy="120.5" r="1.0"/><circle cx="306.6" cy="120.1" r="1.0"/><circle cx="311.8" cy="119.9" r="1.0"/><circle cx="301.5" cy="119.5" r="1.0"/><circle cx="320.1" cy="119.4" r="1.0"/><circle cx="309.9" cy="119.3" r="1.0"/><circle cx="315.0" cy="119.2" r="1.0"/><circle cx="304.8" cy="119.0" r="1.0"/><circle cx="317.5" cy="118.8" r="1.0"/><circle cx="307.4" cy="118.6" r="1.0"/><circle cx="312.4" cy="118.3" r="1.0"/><circle cx="302.4" cy="118.3" r="1.0"/><circle cx="318.7" cy="118.2" r="1.0"/><circle cx="308.7" cy="117.9" r="1.0"/><circle cx="313.6" cy="117.8" r="1.0"/><circle cx="303.9" cy="117.2" r="1.0"/><circle cx="316.0" cy="117.0" r="1.0"/><circle cx="306.4" cy="116.7" r="1.0"/><circle cx="311.2" cy="116.6" r="1.0"/><circle cx="301.9" cy="115.6" r="1.0"/><circle cx="319.9" cy="115.3" r="1.0"/><circle cx="310.7" cy="114.9" r="1.0"/><circle cx="315.2" cy="114.8" r="1.0"/><circle cx="306.4" cy="114.1" r="1.0"/><circle cx="317.2" cy="113.8" r="1.0"/><circle cx="308.6" cy="113.6" r="1.0"/><circle cx="312.9" cy="113.5" r="1.0"/><circle cx="304.4" cy="113.3" r="1.0"/><circle cx="318.1" cy="113.1" r="1.0"/><circle cx="309.7" cy="113.0" r="1.0"/><circle cx="313.8" cy="112.7" r="1.0"/><circle cx="305.7" cy="112.5" r="1.0"/><circle cx="315.8" cy="112.4" r="1.0"/><circle cx="307.7" cy="112.3" r="1.0"/><circle cx="311.7" cy="111.5" r="1.0"/><circle cx="304.0" cy="111.4" r="1.0"/><circle cx="317.9" cy="111.1" r="1.0"/><circle cx="310.3" cy="110.4" r="1.0"/><circle cx="313.9" cy="110.2" r="1.0"/><circle cx="306.8" cy="110.0" r="1.0"/><circle cx="315.6" cy="109.7" r="1.0"/><circle cx="308.7" cy="109.2" r="1.0"/><circle cx="312.1" cy="109.0" r="1.0"/><circle cx="305.4" cy="108.8" r="1.0"/><circle cx="316.1" cy="108.6" r="1.0"/><circle cx="309.6" cy="108.4" r="1.0"/><circle cx="312.7" cy="107.8" r="1.0"/><circle cx="306.7" cy="107.4" r="1.0"/><circle cx="314.1" cy="106.9" r="1.0"/><circle cx="308.3" cy="106.7" r="1.0"/><circle cx="311.2" cy="106.4" r="1.0"/><circle cx="305.7" cy="106.3" r="1.0"/><circle cx="315.9" cy="105.7" r="1.0"/><circle cx="310.7" cy="105.5" r="1.0"/><circle cx="313.2" cy="105.4" r="1.0"/><circle cx="308.3" cy="104.6" r="1.0"/><circle cx="314.3" cy="104.6" r="1.0"/><circle cx="309.6" cy="104.3" r="1.0"/><circle cx="311.8" cy="103.5" r="1.0"/><circle cx="307.5" cy="103.5" r="1.0"/><circle cx="314.5" cy="103.5" r="1.0"/><circle cx="310.2" cy="103.1" r="1.0"/><circle cx="312.2" cy="102.6" r="1.0"/><circle cx="309.0" cy="99.9" r="1.0"/><circle cx="312.6" cy="99.9" r="1.0"/><circle cx="310.0" cy="98.4" r="1.0"/><circle cx="311.2" cy="98.4" r="1.0"/><circle cx="308.8" cy="98.2" r="1.0"/><circle cx="313.0" cy="96.6" r="1.0"/><circle cx="310.7" cy="95.5" r="1.0"/><circle cx="311.9" cy="94.7" r="1.0"/><circle cx="309.6" cy="94.7" r="1.0"/><circle cx="312.5" cy="94.0" r="1.0"/><circle cx="310.1" cy="93.9" r="1.0"/><circle cx="311.3" cy="92.7" r="1.0"/><circle cx="309.0" cy="87.5" r="1.0"/><circle cx="312.7" cy="87.5" r="1.0"/><circle cx="310.4" cy="86.7" r="1.0"/><circle cx="311.6" cy="85.6" r="1.0"/><circle cx="309.3" cy="82.6" r="1.0"/><circle cx="312.2" cy="79.9" r="1.0"/><circle cx="309.9" cy="73.5" r="1.0"/><circle cx="311.0" cy="73.5" r="1.0"/><circle cx="311.0" cy="67.9" r="1.2" fill="#444"/><circle cx="311.0" cy="182.4" r="1.2" fill="#444"/><circle cx="311.0" cy="213.7" r="1.2" fill="#444"/><circle cx="342.5" cy="175.9" r="1.0"/><circle cx="340.2" cy="175.2" r="1.0"/><circle cx="343.0" cy="169.3" r="1.0"/><circle cx="340.7" cy="168.8" r="1.0"/><circle cx="341.9" cy="168.8" r="1.0"/><circle cx="339.6" cy="168.4" r="1.0"/><circle cx="343.3" cy="167.2" r="1.0"/><circle cx="341.0" cy="167.2" r="1.0"/><circle cx="342.2" cy="166.9" r="1.0"/><circle cx="339.7" cy="165.7" r="1.0"/><circle cx="342.9" cy="165.5" r="1.0"/><circle cx="340.0" cy="164.4" r="1.0"/><circle cx="341.6" cy="164.3" r="1.0"/><circle cx="337.8" cy="163.2" r="1.0"/><circle cx="346.2" cy="161.7" r="1.0"/><circle cx="341.4" cy="160.9" r="1.0"/><circle cx="344.3" cy="160.4" r="1.0"/><circle cx="338.5" cy="160.2" r="1.0"/><circle cx="345.8" cy="160.2" r="1.0"/><circle cx="339.9" cy="160.2" r="1.0"/><circle cx="342.9" cy="160.1" r="1.0"/><circle cx="336.5" cy="159.4" r="1.0"/><circle cx="347.1" cy="159.4" r="1.0"/><circle cx="340.6" cy="159.3" r="1.0"/><circle cx="344.0" cy="158.7" r="1.0"/><circle cx="336.9" cy="158.7" r="1.0"/><circle cx="346.3" cy="157.7" r="1.0"/><circle cx="338.3" cy="157.4" r="1.0"/><circle cx="342.4" cy="157.1" r="1.0"/><circle cx="334.0" cy="157.0" r="1.0"/><circle cx="349.2" cy="157.0" r="1.0"/><circle cx="340.8" cy="156.7" r="1.0"/><circle cx="345.2" cy="156.4" r="1.0"/><circle cx="336.1" cy="155.7" r="1.0"/><circle cx="347.7" cy="155.6" r="1.0"/><circle cx="338.2" cy="154.5" r="1.0"/><circle cx="343.2" cy="154.4" r="1.0"/><circle cx="333.2" cy="154.4" r="1.0"/><circle cx="349.4" cy="154.3" r="1.0"/><circle cx="339.4" cy="154.3" r="1.0"/><circle cx="344.4" cy="154.2" r="1.0"/><circle cx="334.4" cy="154.2" r="1.0"/><circle cx="347.0" cy="153.9" r="1.0"/><circle cx="336.8" cy="153.8" r="1.0"/><circle cx="341.9" cy="153.4" r="1.0"/><circle cx="331.6" cy="153.3" r="1.0"/><circle cx="351.3" cy="153.2" r="1.0"/><circle cx="341.0" cy="153.2" r="1.0"/><circle cx="346.2" cy="153.1" r="1.0"/><circle cx="335.8" cy="153.0" r="1.0"/><circle cx="348.8" cy="153.0" r="1.0"/><circle cx="338.4" cy="152.9" r="1.0"/><circle cx="343.6" cy="152.9" r="1.0"/><circle cx="333.2" cy="152.8" r="1.0"/><circle cx="350.1" cy="152.7" r="1.0"/><circle cx="339.7" cy="152.7" r="1.0"/><circle cx="344.9" cy="152.6" r="1.0"/><circle cx="334.4" cy="152.4" r="1.0"/><circle cx="347.5" cy="152.2" r="1.0"/><circle cx="337.0" cy="152.2" r="1.0"/><circle cx="342.3" cy="151.5" r="1.0"/><circle cx="331.8" cy="151.4" r="1.0"/><circle cx="350.8" cy="150.7" r="1.0"/><circle cx="340.3" cy="150.4" r="1.0"/><circle cx="345.5" cy="150.3" r="1.0"/><circle cx="335.1" cy="150.2" r="1.0"/><circle cx="348.1" cy="150.1" r="1.0"/><circle cx="337.7" cy="150.0" r="1.0"/><circle cx="342.9" cy="149.7" r="1.0"/><circle cx="332.7" cy="149.5" r="1.0"/><circle cx="349.3" cy="149.3" r="1.0"/><circle cx="339.1" cy="149.2" r="1.0"/><circle cx="344.2" cy="149.1" r="1.0"/><circle cx="334.1" cy="148.7" r="1.0"/><circle cx="346.5" cy="147.6" r="1.0"/><circle cx="336.8" cy="147.2" r="1.0"/><circle cx="341.6" cy="147.2" r="1.0"/><circle cx="332.0" cy="146.6" r="1.0"/><circle cx="351.0" cy="146.5" r="1.0"/><circle cx="341.4" cy="144.8" r="1.0"/><circle cx="346.1" cy="144.8" r="1.0"/><circle cx="336.7" cy="144.8" r="1.0"/><circle cx="348.4" cy="144.8" r="1.0"/><circle cx="339.1" cy="144.6" r="1.0"/><circle cx="343.7" cy="144.5" r="1.0"/><circle cx="334.4" cy="144.5" r="1.0"/><circle cx="349.5" cy="144.2" r="1.0"/><circle cx="340.2" cy="144.0" r="1.0"/><circle cx="344.9" cy="143.1" r="1.0"/><circle cx="335.6" cy="142.9" r="1.0"/><circle cx="347.2" cy="142.9" r="1.0"/><circle cx="337.9" cy="142.7" r="1.0"/><circle cx="342.6" cy="142.5" r="1.0"/><circle cx="333.3" cy="142.5" r="1.0"/><circle cx="350.1" cy="142.4" r="1.0"/><circle cx="340.8" cy="141.9" r="1.0"/><circle cx="345.5" cy="141.0" r="1.0"/><circle cx="336.1" cy="140.8" r="1.0"/><circle cx="347.9" cy="140.7" r="1.0"/><circle cx="338.4" cy="140.5" r="1.0"/><circle cx="343.2" cy="140.1" r="1.0"/><circle cx="333.6" cy="140.0" r="1.0"/><circle cx="349.2" cy="139.7" r="1.0"/><circle cx="339.6" cy="139.6" r="1.0"/><circle cx="344.4" cy="139.6" r="1.0"/><circle cx="334.8" cy="139.5" r="1.0"/><circle cx="346.8" cy="139.4" r="1.0"/><circle cx="337.2" cy="138.9" r="1.0"/><circle cx="342.0" cy="138.6" r="1.0"/><circle cx="332.2" cy="138.3" r="1.0"/><circle cx="350.9" cy="138.2" r="1.0"/><circle cx="341.1" cy="137.7" r="1.0"/><circle cx="346.0" cy="137.6" r="1.0"/><circle cx="336.1" cy="137.6" r="1.0"/><circle cx="348.5" cy="137.5" r="1.0"/><circle cx="338.6" cy="137.5" r="1.0"/><circle cx="343.5" cy="137.4" r="1.0"/><circle cx="333.6" cy="136.2" r="1.0"/><circle cx="349.8" cy="136.2" r="1.0"/><circle cx="339.8" cy="136.1" r="1.0"/><circle cx="344.8" cy="135.9" r="1.0"/><circle cx="334.8" cy="135.0" r="1.0"/><circle cx="347.4" cy="134.8" r="1.0"/><circle cx="337.3" cy="134.6" r="1.0"/><circle cx="342.3" cy="133.8" r="1.0"/><circle cx="332.3" cy="133.7" r="1.0"/><circle cx="350.5" cy="133.7" r="1.0"/><circle cx="340.4" cy="133.2" r="1.0"/><circle cx="345.4" cy="133.2" r="1.0"/><circle cx="335.5" cy="133.0" r="1.0"/><circle cx="347.9" cy="132.7" r="1.0"/><circle cx="338.0" cy="132.5" r="1.0"/><circle cx="342.9" cy="132.5" r="1.0"/><circle cx="333.1" cy="132.4" r="1.0"/><circle cx="349.0" cy="131.9" r="1.0"/><circle cx="339.3" cy="131.8" r="1.0"/><circle cx="344.1" cy="131.5" r="1.0"/><circle cx="334.6" cy="131.2" r="1.0"/><circle cx="346.3" cy="130.6" r="1.0"/><circle cx="337.1" cy="130.6" r="1.0"/><circle cx="341.7" cy="130.6" r="1.0"/><circle cx="332.5" cy="130.5" r="1.0"/><circle cx="350.5" cy="130.4" r="1.0"/><circle cx="341.3" cy="130.4" r="1.0"/><circle cx="345.8" cy="130.3" r="1.0"/><circle cx="336.7" cy="130.2" r="1.0"/><circle cx="348.0" cy="130.0" r="1.0"/><circle cx="339.0" cy="130.0" r="1.0"/><circle cx="343.5" cy="129.8" r="1.0"/><circle cx="334.6" cy="129.7" r="1.0"/><circle cx="349.0" cy="129.6" r="1.0"/><circle cx="340.2" cy="129.6" r="1.0"/><circle cx="344.6" cy="129.5" r="1.0"/><circle cx="335.8" cy="129.5" r="1.0"/><circle cx="346.6" cy="129.0" r="1.0"/><circle cx="338.1" cy="128.8" r="1.0"/><circle cx="342.3" cy="128.6" r="1.0"/><circle cx="334.2" cy="128.3" r="1.0"/><circle cx="348.9" cy="128.2" r="1.0"/><circle cx="340.8" cy="128.0" r="1.0"/><circle cx="344.4" cy="126.6" r="1.0"/><circle cx="337.7" cy="125.4" r="1.0"/><circle cx="345.5" cy="124.7" r="1.0"/><circle cx="339.5" cy="124.4" r="1.0"/><circle cx="342.4" cy="124.1" r="1.0"/><circle cx="336.9" cy="123.8" r="1.0"/><circle cx="345.8" cy="123.5" r="1.0"/><circle cx="340.4" cy="123.0" r="1.0"/><circle cx="343.0" cy="123.0" r="1.0"/><circle cx="337.9" cy="122.6" r="1.0"/><circle cx="344.0" cy="121.4" r="1.0"/><circle cx="339.4" cy="121.3" r="1.0"/><circle cx="341.7" cy="121.3" r="1.0"/><circle cx="337.2" cy="121.2" r="1.0"/><circle cx="345.6" cy="120.8" r="1.0"/><circle cx="341.3" cy="119.6" r="1.0"/><circle cx="343.3" cy="119.6" r="1.0"/><circle cx="339.5" cy="118.8" r="1.0"/><circle cx="344.0" cy="118.3" r="1.0"/><circle cx="340.5" cy="117.8" r="1.0"/><circle cx="342.1" cy="116.7" r="1.0"/><circle cx="339.1" cy="116.0" r="1.0"/><circle cx="343.9" cy="115.7" r="1.0"/><circle cx="341.0" cy="115.6" r="1.0"/><circle cx="342.4" cy="115.1" r="1.0"/><circle cx="339.7" cy="115.1" r="1.0"/><circle cx="343.0" cy="114.8" r="1.0"/><circle cx="340.4" cy="114.8" r="1.0"/><circle cx="341.7" cy="114.7" r="1.0"/><circle cx="339.1" cy="114.7" r="1.0"/><circle cx="343.6" cy="110.7" r="1.0"/><circle cx="341.3" cy="109.4" r="1.0"/><circle cx="342.4" cy="109.0" r="1.0"/><circle cx="340.1" cy="108.4" r="1.0"/><circle cx="343.0" cy="107.9" r="1.0"/><circle cx="340.7" cy="106.2" r="1.0"/><circle cx="341.8" cy="105.7" r="1.0"/><circle cx="339.5" cy="105.3" r="1.0"/><circle cx="343.3" cy="105.2" r="1.0"/><circle cx="341.0" cy="103.7" r="1.0"/><circle cx="342.1" cy="100.3" r="1.0"/><circle cx="339.8" cy="99.7" r="1.0"/><circle cx="342.7" cy="98.2" r="1.0"/><circle cx="340.4" cy="95.2" r="1.0"/><circle cx="341.5" cy="79.1" r="1.0"/><circle cx="341.5" cy="65.0" r="1.2" fill="#444"/><circle cx="337.7" cy="213.7" r="1.2" fill="#444"/><circle cx="339.6" cy="213.7" r="1.2" fill="#444"/><circle cx="341.5" cy="213.7" r="1.2" fill="#444"/><circle cx="343.4" cy="213.7" r="1.2" fill="#444"/><circle cx="345.3" cy="213.7" r="1.2" fill="#444"/><circle cx="373.0" cy="143.5" r="1.0"/><circle cx="370.7" cy="134.3" r="1.0"/><circle cx="373.6" cy="133.0" r="1.0"/><circle cx="371.3" cy="132.8" r="1.0"/><circle cx="372.4" cy="130.8" r="1.0"/><circle cx="370.1" cy="130.8" r="1.0"/><circle cx="373.9" cy="130.7" r="1.0"/><circle cx="371.5" cy="130.6" r="1.0"/><circle cx="372.7" cy="130.3" r="1.0"/><circle cx="370.4" cy="130.3" r="1.0"/><circle cx="373.3" cy="129.8" r="1.0"/><circle cx="371.0" cy="129.8" r="1.0"/><circle cx="372.1" cy="129.5" r="1.0"/><circle cx="369.8" cy="129.4" r="1.0"/><circle cx="374.3" cy="129.2" r="1.0"/><circle cx="372.0" cy="129.0" r="1.0"/><circle cx="373.2" cy="128.9" r="1.0"/><circle cx="370.8" cy="128.8" r="1.0"/><circle cx="374.1" cy="127.9" r="1.0"/><circle cx="371.3" cy="127.8" r="1.0"/><circle cx="372.7" cy="127.8" r="1.0"/><circle cx="369.8" cy="127.6" r="1.0"/><circle cx="374.7" cy="127.4" r="1.0"/><circle cx="371.6" cy="126.8" r="1.0"/><circle cx="373.3" cy="126.6" r="1.0"/><circle cx="369.6" cy="125.7" r="1.0"/><circle cx="374.6" cy="125.1" r="1.0"/><circle cx="370.4" cy="125.0" r="1.0"/><circle cx="372.5" cy="124.7" r="1.0"/><circle cx="368.1" cy="124.7" r="1.0"/><circle cx="376.2" cy="124.6" r="1.0"/><circle cx="371.7" cy="124.1" r="1.0"/><circle cx="374.1" cy="124.1" r="1.0"/><circle cx="369.1" cy="123.7" r="1.0"/><circle cx="375.8" cy="123.0" r="1.0"/><circle cx="370.1" cy="122.6" r="1.0"/><circle cx="373.0" cy="122.6" r="1.0"/><circle cx="367.1" cy="122.5" r="1.0"/><circle cx="376.8" cy="122.4" r="1.0"/><circle cx="370.7" cy="121.6" r="1.0"/><circle cx="374.0" cy="121.6" r="1.0"/><circle cx="367.2" cy="121.5" r="1.0"/><circle cx="375.8" cy="121.4" r="1.0"/><circle cx="368.8" cy="121.2" r="1.0"/><circle cx="372.4" cy="120.4" r="1.0"/><circle cx="364.5" cy="120.3" r="1.0"/><circle cx="379.5" cy="120.3" r="1.0"/><circle cx="371.6" cy="120.2" r="1.0"/><circle cx="375.6" cy="120.2" r="1.0"/><circle cx="367.7" cy="120.2" r="1.0"/><circle cx="377.6" cy="120.2" r="1.0"/><circle cx="369.5" cy="119.8" r="1.0"/><circle cx="373.7" cy="119.8" r="1.0"/><circle cx="365.3" cy="119.7" r="1.0"/><circle cx="379.0" cy="119.6" r="1.0"/><circle cx="370.5" cy="119.6" r="1.0"/><circle cx="374.8" cy="119.5" r="1.0"/><circle cx="366.1" cy="119.3" r="1.0"/><circle cx="377.1" cy="119.2" r="1.0"/><circle cx="368.2" cy="119.0" r="1.0"/><circle cx="372.7" cy="118.8" r="1.0"/><circle cx="363.5" cy="118.7" r="1.0"/><circle cx="380.5" cy="118.2" r="1.0"/><circle cx="370.9" cy="118.1" r="1.0"/><circle cx="375.8" cy="118.0" r="1.0"/><circle cx="366.1" cy="118.0" r="1.0"/><circle cx="378.2" cy="117.9" r="1.0"/><circle cx="368.4" cy="117.7" r="1.0"/><circle cx="373.4" cy="117.5" r="1.0"/><circle cx="363.4" cy="117.5" r="1.0"/><circle cx="379.7" cy="117.4" r="1.0"/><circle cx="369.6" cy="117.4" r="1.0"/><circle cx="374.7" cy="117.2" r="1.0"/><circle cx="364.5" cy="117.1" r="1.0"/><circle cx="377.4" cy="116.2" r="1.0"/><circle cx="366.9" cy="116.0" r="1.0"/><circle cx="372.2" cy="115.6" r="1.0"/><circle cx="361.7" cy="115.5" r="1.0"/><circle cx="382.4" cy="115.3" r="1.0"/><circle cx="371.9" cy="115.2" r="1.0"/><circle cx="377.1" cy="115.2" r="1.0"/><circle cx="366.7" cy="115.1" r="1.0"/><circle cx="379.7" cy="114.9" r="1.0"/><circle cx="369.3" cy="114.8" r="1.0"/><circle cx="374.5" cy="114.8" r="1.0"/><circle cx="364.2" cy="114.5" r="1.0"/><circle cx="380.9" cy="114.4" r="1.0"/><circle cx="370.6" cy="114.4" r="1.0"/><circle cx="375.7" cy="114.2" r="1.0"/><circle cx="365.5" cy="114.1" r="1.0"/><circle cx="378.3" cy="114.0" r="1.0"/><circle cx="368.1" cy="113.9" r="1.0"/><circle cx="373.2" cy="113.7" r="1.0"/><circle cx="363.2" cy="113.7" r="1.0"/><circle cx="381.3" cy="113.6" r="1.0"/><circle cx="371.3" cy="113.6" r="1.0"/><circle cx="376.2" cy="113.4" r="1.0"/><circle cx="366.5" cy="113.2" r="1.0"/><circle cx="378.6" cy="113.2" r="1.0"/><circle cx="368.9" cy="113.2" r="1.0"/><circle cx="373.7" cy="113.1" r="1.0"/><circle cx="364.1" cy="113.0" r="1.0"/><circle cx="379.7" cy="113.0" r="1.0"/><circle cx="370.1" cy="113.0" r="1.0"/><circle cx="374.9" cy="112.9" r="1.0"/><circle cx="365.4" cy="112.9" r="1.0"/><circle cx="377.3" cy="112.9" r="1.0"/><circle cx="367.8" cy="112.7" r="1.0"/><circle cx="372.5" cy="112.4" r="1.0"/><circle cx="363.4" cy="112.4" r="1.0"/><circle cx="380.4" cy="111.9" r="1.0"/><circle cx="371.7" cy="111.8" r="1.0"/><circle cx="376.0" cy="111.7" r="1.0"/><circle cx="367.5" cy="111.5" r="1.0"/><circle cx="377.9" cy="111.4" r="1.0"/><circle cx="369.7" cy="111.2" r="1.0"/><circle cx="373.7" cy="110.9" r="1.0"/><circle cx="366.5" cy="109.8" r="1.0"/><circle cx="377.6" cy="109.5" r="1.0"/><circle cx="371.0" cy="109.1" r="1.0"/><circle cx="374.1" cy="108.8" r="1.0"/><circle cx="368.0" cy="108.7" r="1.0"/><circle cx="375.5" cy="108.6" r="1.0"/><circle cx="369.6" cy="108.4" r="1.0"/><circle cx="372.5" cy="108.3" r="1.0"/><circle cx="366.7" cy="108.3" r="1.0"/><circle cx="377.1" cy="108.0" r="1.0"/><circle cx="371.5" cy="107.6" r="1.0"/><circle cx="374.1" cy="107.2" r="1.0"/><circle cx="369.0" cy="107.2" r="1.0"/><circle cx="375.3" cy="107.1" r="1.0"/><circle cx="370.3" cy="107.1" r="1.0"/><circle cx="372.7" cy="106.5" r="1.0"/><circle cx="368.0" cy="106.4" r="1.0"/><circle cx="375.6" cy="106.1" r="1.0"/><circle cx="371.0" cy="106.0" r="1.0"/><circle cx="373.2" cy="105.5" r="1.0"/><circle cx="368.9" cy="105.4" r="1.0"/><circle cx="374.3" cy="105.2" r="1.0"/><circle cx="370.1" cy="104.6" r="1.0"/><circle cx="372.1" cy="104.5" r="1.0"/><circle cx="368.3" cy="103.5" r="1.0"/><circle cx="375.7" cy="103.2" r="1.0"/><circle cx="372.0" cy="103.1" r="1.0"/><circle cx="373.8" cy="103.0" r="1.0"/><circle cx="370.1" cy="102.8" r="1.0"/><circle cx="374.7" cy="102.7" r="1.0"/><circle cx="371.0" cy="102.6" r="1.0"/><circle cx="372.9" cy="102.5" r="1.0"/><circle cx="369.3" cy="102.0" r="1.0"/><circle cx="375.1" cy="102.0" r="1.0"/><circle cx="371.5" cy="101.8" r="1.0"/><circle cx="373.3" cy="101.2" r="1.0"/><circle cx="369.8" cy="100.2" r="1.0"/><circle cx="374.1" cy="99.9" r="1.0"/><circle cx="370.7" cy="99.7" r="1.0"/><circle cx="372.4" cy="99.7" r="1.0"/><circle cx="369.0" cy="99.6" r="1.0"/><circle cx="375.1" cy="99.1" r="1.0"/><circle cx="371.8" cy="99.0" r="1.0"/><circle cx="373.4" cy="98.6" r="1.0"/><circle cx="370.2" cy="97.9" r="1.0"/><circle cx="374.1" cy="97.7" r="1.0"/><circle cx="371.0" cy="97.7" r="1.0"/><circle cx="372.6" cy="97.5" r="1.0"/><circle cx="369.5" cy="97.4" r="1.0"/><circle cx="374.5" cy="97.3" r="1.0"/><circle cx="371.4" cy="97.0" r="1.0"/><circle cx="372.9" cy="96.2" r="1.0"/><circle cx="370.0" cy="96.1" r="1.0"/><circle cx="373.6" cy="96.0" r="1.0"/><circle cx="370.8" cy="95.7" r="1.0"/><circle cx="372.2" cy="95.5" r="1.0"/><circle cx="369.5" cy="95.4" r="1.0"/><circle cx="374.5" cy="95.3" r="1.0"/><circle cx="371.9" cy="95.1" r="1.0"/><circle cx="373.2" cy="95.0" r="1.0"/><circle cx="370.6" cy="95.0" r="1.0"/><circle cx="373.8" cy="95.0" r="1.0"/><circle cx="371.3" cy="94.7" r="1.0"/><circle cx="372.5" cy="92.7" r="1.0"/><circle cx="370.2" cy="92.7" r="1.0"/><circle cx="373.9" cy="92.4" r="1.0"/><circle cx="371.6" cy="91.5" r="1.0"/><circle cx="372.8" cy="91.3" r="1.0"/><circle cx="370.5" cy="90.9" r="1.0"/><circle cx="373.4" cy="90.6" r="1.0"/><circle cx="371.1" cy="90.5" r="1.0"/><circle cx="372.2" cy="89.7" r="1.0"/><circle cx="369.9" cy="89.0" r="1.0"/><circle cx="374.1" cy="88.6" r="1.0"/><circle cx="371.8" cy="88.3" r="1.0"/><circle cx="372.9" cy="87.7" r="1.0"/><circle cx="370.6" cy="87.5" r="1.0"/><circle cx="373.5" cy="86.3" r="1.0"/><circle cx="371.2" cy="86.0" r="1.0"/><circle cx="372.4" cy="83.3" r="1.0"/><circle cx="370.0" cy="83.3" r="1.0"/><circle cx="373.8" cy="82.0" r="1.0"/><circle cx="371.5" cy="78.1" r="1.0"/><circle cx="372.6" cy="77.0" r="1.0"/><circle cx="370.3" cy="76.9" r="1.0"/><circle cx="373.2" cy="75.6" r="1.0"/><circle cx="370.9" cy="74.8" r="1.0"/><circle cx="372.1" cy="71.0" r="1.0"/><circle cx="372.1" cy="49.0" r="1.2" fill="#444"/><circle cx="372.1" cy="56.4" r="1.2" fill="#444"/><circle cx="372.1" cy="213.7" r="1.2" fill="#444"/><circle cx="403.5" cy="129.3" r="1.0"/><circle cx="401.2" cy="114.4" r="1.0"/><circle cx="404.1" cy="113.3" r="1.0"/><circle cx="401.8" cy="111.9" r="1.0"/><circle cx="403.0" cy="111.9" r="1.0"/><circle cx="400.4" cy="111.6" r="1.0"/><circle cx="405.1" cy="110.4" r="1.0"/><circle cx="401.8" cy="110.3" r="1.0"/><circle cx="403.7" cy="109.4" r="1.0"/><circle cx="399.7" cy="109.3" r="1.0"/><circle cx="404.7" cy="109.3" r="1.0"/><circle cx="400.5" cy="108.7" r="1.0"/><circle cx="402.7" cy="108.5" r="1.0"/><circle cx="398.3" cy="108.5" r="1.0"/><circle cx="407.2" cy="108.1" r="1.0"/><circle cx="402.5" cy="107.8" r="1.0"/><circle cx="405.0" cy="107.4" r="1.0"/><circle cx="399.9" cy="107.2" r="1.0"/><circle cx="406.4" cy="107.1" r="1.0"/><circle cx="401.0" cy="106.3" r="1.0"/><circle cx="404.0" cy="105.5" r="1.0"/><circle cx="397.9" cy="105.5" r="1.0"/><circle cx="408.0" cy="105.1" r="1.0"/><circle cx="401.6" cy="104.8" r="1.0"/><circle cx="404.9" cy="104.4" r="1.0"/><circle cx="398.3" cy="104.2" r="1.0"/><circle cx="406.6" cy="104.2" r="1.0"/><circle cx="399.9" cy="104.0" r="1.0"/><circle cx="403.3" cy="104.0" r="1.0"/><circle cx="396.5" cy="103.9" r="1.0"/><circle cx="408.8" cy="103.9" r="1.0"/><circle cx="402.0" cy="103.6" r="1.0"/><circle cx="405.5" cy="103.5" r="1.0"/><circle cx="398.5" cy="103.5" r="1.0"/><circle cx="407.2" cy="103.4" r="1.0"/><circle cx="400.2" cy="103.2" r="1.0"/><circle cx="403.8" cy="102.9" r="1.0"/><circle cx="396.7" cy="102.9" r="1.0"/><circle cx="408.3" cy="102.5" r="1.0"/><circle cx="401.1" cy="102.3" r="1.0"/><circle cx="404.7" cy="102.2" r="1.0"/><circle cx="397.4" cy="102.2" r="1.0"/><circle cx="406.6" cy="101.7" r="1.0"/><circle cx="399.2" cy="101.3" r="1.0"/><circle cx="402.9" cy="101.0" r="1.0"/><circle cx="395.4" cy="100.9" r="1.0"/><circle cx="409.7" cy="100.5" r="1.0"/><circle cx="402.2" cy="99.7" r="1.0"/><circle cx="406.0" cy="99.7" r="1.0"/><circle cx="398.4" cy="99.6" r="1.0"/><circle cx="408.0" cy="99.3" r="1.0"/><circle cx="400.2" cy="99.3" r="1.0"/><circle cx="404.1" cy="98.9" r="1.0"/><circle cx="396.2" cy="98.5" r="1.0"/><circle cx="409.1" cy="98.4" r="1.0"/><circle cx="401.2" cy="98.0" r="1.0"/><circle cx="405.2" cy="97.5" r="1.0"/><circle cx="397.0" cy="97.5" r="1.0"/><circle cx="407.3" cy="97.4" r="1.0"/><circle cx="399.0" cy="97.4" r="1.0"/><circle cx="403.2" cy="97.2" r="1.0"/><circle cx="394.8" cy="97.1" r="1.0"/><circle cx="410.1" cy="96.9" r="1.0"/><circle cx="401.6" cy="96.9" r="1.0"/><circle cx="406.0" cy="96.3" r="1.0"/><circle cx="397.2" cy="96.3" r="1.0"/><circle cx="408.2" cy="96.1" r="1.0"/><circle cx="399.4" cy="96.1" r="1.0"/><circle cx="403.8" cy="95.8" r="1.0"/><circle cx="394.5" cy="95.2" r="1.0"/><circle cx="409.7" cy="95.1" r="1.0"/><circle cx="400.3" cy="95.1" r="1.0"/><circle cx="405.1" cy="94.2" r="1.0"/><circle cx="395.2" cy="93.8" r="1.0"/><circle cx="407.7" cy="93.5" r="1.0"/><circle cx="397.6" cy="93.4" r="1.0"/><circle cx="402.7" cy="93.1" r="1.0"/><circle cx="392.4" cy="93.0" r="1.0"/><circle cx="412.7" cy="93.0" r="1.0"/><circle cx="402.4" cy="92.8" r="1.0"/><circle cx="407.6" cy="92.7" r="1.0"/><circle cx="397.2" cy="92.6" r="1.0"/><circle cx="410.3" cy="92.4" r="1.0"/><circle cx="399.8" cy="92.4" r="1.0"/><circle cx="405.1" cy="92.3" r="1.0"/><circle cx="394.6" cy="92.2" r="1.0"/><circle cx="411.6" cy="92.2" r="1.0"/><circle cx="401.1" cy="92.1" r="1.0"/><circle cx="406.4" cy="92.0" r="1.0"/><circle cx="395.9" cy="92.0" r="1.0"/><circle cx="409.0" cy="92.0" r="1.0"/><circle cx="398.5" cy="91.9" r="1.0"/><circle cx="403.7" cy="91.9" r="1.0"/><circle cx="393.2" cy="91.9" r="1.0"/><circle cx="412.3" cy="91.7" r="1.0"/><circle cx="401.8" cy="91.3" r="1.0"/><circle cx="407.0" cy="91.2" r="1.0"/><circle cx="396.6" cy="91.1" r="1.0"/><circle cx="409.6" cy="91.0" r="1.0"/><circle cx="399.2" cy="90.6" r="1.0"/><circle cx="404.4" cy="90.5" r="1.0"/><circle cx="394.1" cy="90.5" r="1.0"/><circle cx="410.7" cy="90.3" r="1.0"/><circle cx="400.5" cy="90.1" r="1.0"/><circle cx="405.6" cy="90.1" r="1.0"/><circle cx="395.6" cy="89.8" r="1.0"/><circle cx="408.1" cy="89.7" r="1.0"/><circle cx="398.1" cy="89.7" r="1.0"/><circle cx="403.1" cy="89.6" r="1.0"/><circle cx="393.2" cy="89.6" r="1.0"/><circle cx="412.0" cy="89.5" r="1.0"/><circle cx="402.1" cy="89.3" r="1.0"/><circle cx="407.0" cy="89.3" r="1.0"/><circle cx="397.4" cy="89.0" r="1.0"/><circle cx="409.3" cy="89.0" r="1.0"/><circle cx="399.8" cy="88.6" r="1.0"/><circle cx="404.5" cy="88.3" r="1.0"/><circle cx="395.4" cy="88.2" r="1.0"/><circle cx="409.9" cy="87.8" r="1.0"/><circle cx="401.1" cy="87.7" r="1.0"/><circle cx="405.3" cy="87.0" r="1.0"/><circle cx="397.0" cy="86.9" r="1.0"/><circle cx="407.3" cy="86.6" r="1.0"/><circle cx="399.2" cy="86.5" r="1.0"/><circle cx="403.2" cy="86.0" r="1.0"/><circle cx="395.4" cy="85.6" r="1.0"/><circle cx="409.5" cy="85.4" r="1.0"/><circle cx="401.8" cy="85.4" r="1.0"/><circle cx="405.6" cy="84.9" r="1.0"/><circle cx="397.9" cy="84.6" r="1.0"/><circle cx="407.6" cy="83.9" r="1.0"/><circle cx="399.7" cy="83.5" r="1.0"/><circle cx="403.7" cy="83.0" r="1.0"/><circle cx="395.5" cy="82.8" r="1.0"/><circle cx="409.0" cy="82.7" r="1.0"/><circle cx="400.6" cy="82.5" r="1.0"/><circle cx="404.9" cy="82.3" r="1.0"/><circle cx="396.2" cy="81.9" r="1.0"/><circle cx="407.1" cy="81.9" r="1.0"/><circle cx="398.3" cy="81.7" r="1.0"/><circle cx="402.7" cy="81.7" r="1.0"/><circle cx="393.8" cy="81.6" r="1.0"/><circle cx="411.5" cy="81.2" r="1.0"/><circle cx="402.3" cy="80.5" r="1.0"/><circle cx="407.2" cy="79.9" r="1.0"/><circle cx="397.3" cy="79.5" r="1.0"/><circle cx="409.8" cy="79.4" r="1.0"/><circle cx="399.8" cy="79.4" r="1.0"/><circle cx="404.8" cy="79.4" r="1.0"/><circle cx="394.7" cy="79.2" r="1.0"/><circle cx="411.1" cy="79.2" r="1.0"/><circle cx="401.0" cy="79.1" r="1.0"/><circle cx="406.1" cy="79.1" r="1.0"/><circle cx="395.9" cy="79.0" r="1.0"/><circle cx="408.6" cy="79.0" r="1.0"/><circle cx="398.5" cy="79.0" r="1.0"/><circle cx="403.6" cy="79.0" r="1.0"/><circle cx="393.4" cy="78.9" r="1.0"/><circle cx="411.8" cy="78.7" r="1.0"/><circle cx="401.6" cy="78.6" r="1.0"/><circle cx="406.7" cy="78.5" r="1.0"/><circle cx="396.6" cy="78.4" r="1.0"/><circle cx="409.3" cy="78.3" r="1.0"/><circle cx="399.1" cy="78.3" r="1.0"/><circle cx="404.2" cy="78.1" r="1.0"/><circle cx="394.1" cy="77.9" r="1.0"/><circle cx="410.5" cy="77.8" r="1.0"/><circle cx="400.4" cy="77.8" r="1.0"/><circle cx="405.4" cy="77.8" r="1.0"/><circle cx="395.4" cy="77.7" r="1.0"/><circle cx="407.9" cy="77.7" r="1.0"/><circle cx="397.9" cy="77.6" r="1.0"/><circle cx="402.9" cy="77.2" r="1.0"/><circle cx="393.1" cy="77.2" r="1.0"/><circle cx="411.7" cy="77.1" r="1.0"/><circle cx="402.0" cy="76.9" r="1.0"/><circle cx="406.8" cy="76.8" r="1.0"/><circle cx="397.3" cy="76.7" r="1.0"/><circle cx="409.1" cy="76.6" r="1.0"/><circle cx="399.7" cy="76.4" r="1.0"/><circle cx="404.3" cy="76.3" r="1.0"/><circle cx="395.4" cy="76.0" r="1.0"/><circle cx="409.7" cy="75.8" r="1.0"/><circle cx="401.0" cy="75.8" r="1.0"/><circle cx="405.2" cy="75.3" r="1.0"/><circle cx="397.0" cy="75.2" r="1.0"/><circle cx="407.1" cy="75.2" r="1.0"/><circle cx="399.1" cy="75.1" r="1.0"/><circle cx="403.1" cy="74.9" r="1.0"/><circle cx="396.0" cy="74.3" r="1.0"/><circle cx="408.1" cy="73.6" r="1.0"/><circle cx="401.9" cy="73.1" r="1.0"/><circle cx="404.6" cy="72.8" r="1.0"/><circle cx="400.0" cy="71.6" r="1.0"/><circle cx="405.2" cy="71.5" r="1.0"/><circle cx="401.1" cy="71.4" r="1.0"/><circle cx="403.1" cy="71.4" r="1.0"/><circle cx="399.8" cy="70.4" r="1.0"/><circle cx="404.7" cy="69.8" r="1.0"/><circle cx="401.9" cy="69.7" r="1.0"/><circle cx="403.3" cy="69.7" r="1.0"/><circle cx="400.9" cy="68.6" r="1.0"/><circle cx="403.8" cy="68.1" r="1.0"/><circle cx="401.4" cy="64.0" r="1.0"/><circle cx="402.6" cy="58.5" r="1.0"/><circle cx="402.6" cy="38.5" r="1.2" fill="#444"/><circle cx="402.6" cy="43.2" r="1.2" fill="#444"/><circle cx="402.6" cy="135.2" r="1.2" fill="#444"/><circle cx="402.6" cy="141.1" r="1.2" fill="#444"/><circle cx="434.1" cy="137.6" r="1.0"/><circle cx="431.7" cy="125.4" r="1.0"/><circle cx="434.6" cy="124.6" r="1.0"/><circle cx="432.3" cy="124.1" r="1.0"/><circle cx="433.5" cy="122.8" r="1.0"/><circle cx="431.2" cy="122.4" r="1.0"/><circle cx="434.9" cy="121.4" r="1.0"/><circle cx="432.6" cy="119.7" r="1.0"/><circle cx="433.8" cy="119.3" r="1.0"/><circle cx="431.5" cy="119.2" r="1.0"/><circle cx="434.3" cy="119.1" r="1.0"/><circle cx="432.0" cy="117.9" r="1.0"/><circle cx="433.2" cy="117.6" r="1.0"/><circle cx="430.9" cy="117.2" r="1.0"/><circle cx="435.4" cy="115.6" r="1.0"/><circle cx="433.1" cy="115.5" r="1.0"/><circle cx="434.3" cy="114.9" r="1.0"/><circle cx="431.8" cy="114.8" r="1.0"/><circle cx="435.3" cy="113.1" r="1.0"/><circle cx="432.3" cy="112.8" r="1.0"/><circle cx="434.0" cy="111.2" r="1.0"/><circle cx="430.1" cy="110.6" r="1.0"/><circle cx="436.5" cy="110.6" r="1.0"/><circle cx="432.5" cy="110.4" r="1.0"/><circle cx="434.6" cy="109.9" r="1.0"/><circle cx="430.4" cy="109.9" r="1.0"/><circle cx="435.7" cy="109.8" r="1.0"/><circle cx="431.4" cy="109.7" r="1.0"/><circle cx="433.6" cy="109.7" r="1.0"/><circle cx="429.1" cy="109.3" r="1.0"/><circle cx="437.2" cy="109.3" r="1.0"/><circle cx="432.7" cy="108.7" r="1.0"/><circle cx="435.1" cy="108.4" r="1.0"/><circle cx="429.9" cy="106.8" r="1.0"/><circle cx="436.9" cy="106.6" r="1.0"/><circle cx="431.2" cy="106.2" r="1.0"/><circle cx="434.1" cy="106.2" r="1.0"/><circle cx="428.1" cy="105.7" r="1.0"/><circle cx="437.9" cy="105.7" r="1.0"/><circle cx="431.8" cy="105.4" r="1.0"/><circle cx="434.9" cy="105.3" r="1.0"/><circle cx="428.7" cy="105.2" r="1.0"/><circle cx="436.6" cy="105.1" r="1.0"/><circle cx="430.2" cy="105.0" r="1.0"/><circle cx="433.4" cy="104.0" r="1.0"/><circle cx="426.5" cy="104.0" r="1.0"/><circle cx="439.9" cy="103.5" r="1.0"/><circle cx="432.7" cy="103.0" r="1.0"/><circle cx="436.4" cy="103.0" r="1.0"/><circle cx="428.8" cy="102.2" r="1.0"/><circle cx="438.7" cy="101.8" r="1.0"/><circle cx="430.6" cy="101.5" r="1.0"/><circle cx="434.7" cy="101.4" r="1.0"/><circle cx="426.5" cy="101.3" r="1.0"/><circle cx="439.9" cy="101.3" r="1.0"/><circle cx="431.6" cy="101.0" r="1.0"/><circle cx="435.8" cy="100.9" r="1.0"/><circle cx="427.3" cy="100.5" r="1.0"/><circle cx="438.1" cy="100.2" r="1.0"/><circle cx="429.4" cy="100.2" r="1.0"/><circle cx="433.8" cy="100.0" r="1.0"/><circle cx="424.8" cy="99.6" r="1.0"/><circle cx="441.2" cy="99.1" r="1.0"/><circle cx="432.1" cy="99.0" r="1.0"/><circle cx="436.7" cy="98.9" r="1.0"/><circle cx="427.4" cy="98.9" r="1.0"/><circle cx="439.0" cy="98.8" r="1.0"/><circle cx="429.7" cy="98.8" r="1.0"/><circle cx="434.4" cy="98.7" r="1.0"/><circle cx="425.0" cy="98.5" r="1.0"/><circle cx="440.4" cy="98.0" r="1.0"/><circle cx="430.8" cy="97.9" r="1.0"/><circle cx="435.6" cy="97.8" r="1.0"/><circle cx="426.0" cy="97.7" r="1.0"/><circle cx="438.1" cy="96.9" r="1.0"/><circle cx="428.3" cy="96.6" r="1.0"/><circle cx="433.2" cy="96.2" r="1.0"/><circle cx="423.2" cy="96.1" r="1.0"/><circle cx="443.0" cy="96.0" r="1.0"/><circle cx="433.0" cy="96.0" r="1.0"/><circle cx="438.0" cy="96.0" r="1.0"/><circle cx="427.9" cy="95.9" r="1.0"/><circle cx="440.5" cy="95.9" r="1.0"/><circle cx="430.5" cy="95.8" r="1.0"/><circle cx="435.5" cy="95.4" r="1.0"/><circle cx="425.3" cy="95.2" r="1.0"/><circle cx="441.9" cy="95.0" r="1.0"/><circle cx="431.7" cy="94.8" r="1.0"/><circle cx="436.8" cy="94.7" r="1.0"/><circle cx="426.5" cy="94.5" r="1.0"/><circle cx="439.4" cy="94.1" r="1.0"/><circle cx="429.1" cy="94.1" r="1.0"/><circle cx="434.3" cy="93.2" r="1.0"/><circle cx="423.8" cy="93.0" r="1.0"/><circle cx="442.8" cy="92.3" r="1.0"/><circle cx="432.3" cy="92.1" r="1.0"/><circle cx="437.6" cy="91.8" r="1.0"/><circle cx="427.1" cy="91.8" r="1.0"/><circle cx="440.2" cy="91.7" r="1.0"/><circle cx="429.7" cy="91.6" r="1.0"/><circle cx="434.9" cy="91.4" r="1.0"/><circle cx="424.4" cy="91.4" r="1.0"/><circle cx="441.5" cy="91.3" r="1.0"/><circle cx="431.0" cy="91.0" r="1.0"/><circle cx="436.2" cy="90.9" r="1.0"/><circle cx="425.8" cy="90.6" r="1.0"/><circle cx="438.9" cy="90.4" r="1.0"/><circle cx="428.4" cy="90.4" r="1.0"/><circle cx="433.6" cy="89.9" r="1.0"/><circle cx="423.2" cy="89.8" r="1.0"/><circle cx="443.1" cy="89.8" r="1.0"/><circle cx="432.6" cy="89.6" r="1.0"/><circle cx="437.9" cy="89.5" r="1.0"/><circle cx="427.4" cy="89.3" r="1.0"/><circle cx="440.4" cy="89.0" r="1.0"/><circle cx="430.1" cy="88.4" r="1.0"/><circle cx="435.2" cy="88.4" r="1.0"/><circle cx="424.9" cy="88.1" r="1.0"/><circle cx="441.6" cy="88.0" r="1.0"/><circle cx="431.4" cy="87.3" r="1.0"/><circle cx="436.4" cy="87.2" r="1.0"/><circle cx="426.4" cy="87.2" r="1.0"/><circle cx="438.9" cy="87.0" r="1.0"/><circle cx="428.9" cy="86.9" r="1.0"/><circle cx="433.9" cy="86.6" r="1.0"/><circle cx="424.0" cy="86.4" r="1.0"/><circle cx="441.9" cy="86.2" r="1.0"/><circle cx="432.1" cy="86.2" r="1.0"/><circle cx="437.0" cy="86.1" r="1.0"/><circle cx="427.2" cy="86.0" r="1.0"/><circle cx="439.4" cy="85.8" r="1.0"/><circle cx="429.6" cy="85.8" r="1.0"/><circle cx="434.5" cy="85.8" r="1.0"/><circle cx="424.9" cy="85.4" r="1.0"/><circle cx="440.4" cy="85.1" r="1.0"/><circle cx="430.9" cy="85.0" r="1.0"/><circle cx="435.6" cy="84.7" r="1.0"/><circle cx="426.4" cy="84.3" r="1.0"/><circle cx="437.9" cy="84.2" r="1.0"/><circle cx="428.7" cy="84.0" r="1.0"/><circle cx="433.3" cy="83.3" r="1.0"/><circle cx="424.5" cy="83.2" r="1.0"/><circle cx="441.6" cy="83.1" r="1.0"/><circle cx="432.9" cy="83.1" r="1.0"/><circle cx="437.2" cy="82.9" r="1.0"/><circle cx="428.6" cy="82.8" r="1.0"/><circle cx="439.2" cy="82.3" r="1.0"/><circle cx="430.8" cy="82.2" r="1.0"/><circle cx="434.8" cy="80.9" r="1.0"/><circle cx="427.1" cy="80.8" r="1.0"/><circle cx="439.6" cy="80.8" r="1.0"/><circle cx="431.9" cy="80.7" r="1.0"/><circle cx="435.7" cy="80.2" r="1.0"/><circle cx="428.2" cy="80.2" r="1.0"/><circle cx="437.5" cy="79.9" r="1.0"/><circle cx="430.2" cy="79.7" r="1.0"/><circle cx="433.8" cy="79.5" r="1.0"/><circle cx="426.7" cy="79.4" r="1.0"/><circle cx="439.3" cy="78.7" r="1.0"/><circle cx="432.5" cy="78.3" r="1.0"/><circle cx="435.8" cy="78.0" r="1.0"/><circle cx="429.4" cy="77.6" r="1.0"/><circle cx="437.2" cy="77.3" r="1.0"/><circle cx="431.0" cy="77.2" r="1.0"/><circle cx="434.1" cy="77.1" r="1.0"/><circle cx="428.0" cy="77.1" r="1.0"/><circle cx="437.8" cy="77.0" r="1.0"/><circle cx="431.9" cy="76.3" r="1.0"/><circle cx="434.7" cy="75.9" r="1.0"/><circle cx="429.2" cy="75.8" r="1.0"/><circle cx="436.0" cy="75.6" r="1.0"/><circle cx="430.7" cy="75.2" r="1.0"/><circle cx="433.3" cy="75.1" r="1.0"/><circle cx="428.4" cy="74.5" r="1.0"/><circle cx="437.6" cy="74.2" r="1.0"/><circle cx="432.8" cy="74.0" r="1.0"/><circle cx="435.1" cy="73.5" r="1.0"/><circle cx="430.7" cy="73.1" r="1.0"/><circle cx="436.0" cy="73.0" r="1.0"/><circle cx="431.9" cy="72.7" r="1.0"/><circle cx="433.8" cy="72.0" r="1.0"/><circle cx="430.2" cy="71.6" r="1.0"/><circle cx="436.0" cy="71.6" r="1.0"/><circle cx="432.5" cy="70.5" r="1.0"/><circle cx="434.1" cy="70.5" r="1.0"/><circle cx="431.2" cy="69.3" r="1.0"/><circle cx="434.5" cy="68.2" r="1.0"/><circle cx="432.1" cy="68.1" r="1.0"/><circle cx="433.3" cy="66.6" r="1.0"/><circle cx="431.0" cy="65.9" r="1.0"/><circle cx="435.2" cy="65.5" r="1.0"/><circle cx="432.8" cy="65.5" r="1.0"/><circle cx="434.0" cy="64.8" r="1.0"/><circle cx="431.7" cy="63.1" r="1.0"/><circle cx="434.6" cy="61.8" r="1.0"/><circle cx="432.3" cy="61.3" r="1.0"/><circle cx="433.4" cy="61.1" r="1.0"/><circle cx="431.1" cy="59.9" r="1.0"/><circle cx="434.9" cy="59.8" r="1.0"/><circle cx="432.6" cy="58.8" r="1.0"/><circle cx="433.7" cy="58.2" r="1.0"/><circle cx="431.4" cy="57.8" r="1.0"/><circle cx="434.3" cy="56.8" r="1.0"/><circle cx="432.0" cy="56.7" r="1.0"/><circle cx="433.1" cy="46.6" r="1.0"/><circle cx="433.1" cy="37.5" r="1.2" fill="#444"/><circle cx="433.1" cy="152.8" r="1.2" fill="#444"/><circle cx="433.1" cy="185.2" r="1.2" fill="#444"/><circle cx="433.1" cy="198.1" r="1.2" fill="#444"/><circle cx="433.1" cy="213.8" r="1.2" fill="#444"/></g><line x1="85.5" y1="129.8" x2="109.1" y2="129.8" stroke="#000" stroke-width="1.8"/><path d="M97.3 127.7L99.6 130.0L97.3 132.3L95.0 130.0Z" fill="#6e0a22" stroke="#4a0414" stroke-width="0.4"/><line x1="116.0" y1="135.0" x2="139.6" y2="135.0" stroke="#000" stroke-width="1.8"/><path d="M127.8 137.3L130.1 139.6L127.8 141.9L125.5 139.6Z" fill="#6e0a22" stroke="#4a0414" stroke-width="0.4"/><line x1="146.6" y1="110.0" x2="170.2" y2="110.0" stroke="#000" stroke-width="1.8"/><path d="M158.4 106.2L160.7 108.5L158.4 110.8L156.1 108.5Z" fill="#6e0a22" stroke="#4a0414" stroke-width="0.4"/><line x1="177.1" y1="129.0" x2="200.7" y2="129.0" stroke="#000" stroke-width="1.8"/><path d="M188.9 125.4L191.2 127.7L188.9 130.0L186.6 127.7Z" fill="#6e0a22" stroke="#4a0414" stroke-width="0.4"/><line x1="207.6" y1="107.1" x2="231.2" y2="107.1" stroke="#000" stroke-width="1.8"/><path d="M219.4 108.2L221.7 110.5L219.4 112.8L217.1 110.5Z" fill="#6e0a22" stroke="#4a0414" stroke-width="0.4"/><line x1="238.1" y1="111.1" x2="261.8" y2="111.1" stroke="#000" stroke-width="1.8"/><path d="M249.9 109.5L252.2 111.8L249.9 114.1L247.6 111.8Z" fill="#6e0a22" stroke="#4a0414" stroke-width="0.4"/><line x1="268.7" y1="104.9" x2="292.3" y2="104.9" stroke="#000" stroke-width="1.8"/><path d="M280.5 101.7L282.8 104.0L280.5 106.3L278.2 104.0Z" fill="#6e0a22" stroke="#4a0414" stroke-width="0.4"/><line x1="299.2" y1="126.2" x2="322.8" y2="126.2" stroke="#000" stroke-width="1.8"/><path d="M311.0 124.5L313.3 126.8L311.0 129.1L308.7 126.8Z" fill="#6e0a22" stroke="#4a0414" stroke-width="0.4"/><line x1="329.7" y1="138.1" x2="353.3" y2="138.1" stroke="#000" stroke-width="1.8"/><path d="M341.5 136.9L343.8 139.2L341.5 141.5L339.2 139.2Z" fill="#6e0a22" stroke="#4a0414" stroke-width="0.4"/><line x1="360.3" y1="110.5" x2="383.9" y2="110.5" stroke="#000" stroke-width="1.8"/><path d="M372.1 106.9L374.4 109.2L372.1 111.5L369.8 109.2Z" fill="#6e0a22" stroke="#4a0414" stroke-width="0.4"/><line x1="390.8" y1="91.7" x2="414.4" y2="91.7" stroke="#000" stroke-width="1.8"/><path d="M402.6 89.4L404.9 91.7L402.6 94.0L400.3 91.7Z" fill="#6e0a22" stroke="#4a0414" stroke-width="0.4"/><line x1="421.3" y1="91.7" x2="444.9" y2="91.7" stroke="#000" stroke-width="1.8"/><path d="M433.1 92.2L435.4 94.5L433.1 96.8L430.8 94.5Z" fill="#6e0a22" stroke="#4a0414" stroke-width="0.4"/><path d="M78.8 29.1H451.7V222.7" fill="none" stroke="#000" stroke-width="1.5"/><path d="M78.8 28.400000000000002V222.7H452.4" fill="none" stroke="#000" stroke-width="2"/><path d="M78.8 213.1H82.7M78.8 202.6H80.8M78.8 196.5H80.8M78.8 192.1H80.8M78.8 188.8H81.8M78.8 186.0H80.8M78.8 183.7H80.8M78.8 181.7H80.8M78.8 179.9H80.8M74.5 178.3H82.7M78.8 167.8H80.8M78.8 161.7H80.8M78.8 157.3H80.8M78.8 154.0H81.8M78.8 151.2H80.8M78.8 148.9H80.8M78.8 146.9H80.8M78.8 145.1H80.8M74.5 143.5H82.7M78.8 133.0H80.8M78.8 126.9H80.8M78.8 122.5H80.8M78.8 119.2H81.8M78.8 116.4H80.8M78.8 114.1H80.8M78.8 112.1H80.8M78.8 110.3H80.8M74.5 108.7H82.7M78.8 98.2H80.8M78.8 92.1H80.8M78.8 87.7H80.8M78.8 84.4H81.8M78.8 81.6H80.8M78.8 79.3H80.8M78.8 77.3H80.8M78.8 75.5H80.8M74.5 73.9H82.7M78.8 63.4H80.8M78.8 57.3H80.8M78.8 52.9H80.8M78.8 49.6H81.8M78.8 46.8H80.8M78.8 44.5H80.8M78.8 42.5H80.8M78.8 40.7H80.8M74.5 39.1H82.7M78.8 214.7H80.8M78.8 216.5H80.8M78.8 218.5H80.8M78.8 220.8H80.8" stroke="#000" stroke-width="1.1" fill="none"/><text x="69.8" y="43.3" text-anchor="end" font-family='"Liberation Sans", sans-serif' font-size="10" fill="#111" letter-spacing="0.35">100.00</text><text x="69.8" y="78.1" text-anchor="end" font-family='"Liberation Sans", sans-serif' font-size="10" fill="#111" letter-spacing="0.35">10.00</text><text x="69.8" y="112.9" text-anchor="end" font-family='"Liberation Sans", sans-serif' font-size="10" fill="#111" letter-spacing="0.35">1.00</text><text x="69.8" y="147.7" text-anchor="end" font-family='"Liberation Sans", sans-serif' font-size="10" fill="#111" letter-spacing="0.35">0.10</text><text x="69.8" y="182.5" text-anchor="end" font-family='"Liberation Sans", sans-serif' font-size="10" fill="#111" letter-spacing="0.35">0.01</text><text transform="translate(27.9,125.5) rotate(-90) scale(0.745,1)" text-anchor="middle" font-family='"Liberation Sans", sans-serif' font-size="12.2" fill="#111">Protein expression</text><path d="M97.3 222.7V226.7M127.8 222.7V226.7M158.4 222.7V226.7M188.9 222.7V226.7M219.4 222.7V226.7M249.9 222.7V226.7M280.5 222.7V226.7M311.0 222.7V226.7M341.5 222.7V226.7M372.1 222.7V226.7M402.6 222.7V226.7M433.1 222.7V226.7" stroke="#000" stroke-width="1.1"/><text transform="translate(101.8,234.2) rotate(-45)" text-anchor="end" font-family='"Liberation Sans", sans-serif' font-size="11.2" fill="#111">Cereblon</text><text transform="translate(132.3,234.2) rotate(-45)" text-anchor="end" font-family='"Liberation Sans", sans-serif' font-size="11.2" fill="#111">Aiolos</text><text transform="translate(162.9,234.2) rotate(-45)" text-anchor="end" font-family='"Liberation Sans", sans-serif' font-size="11.2" fill="#111">Ikaros</text><text transform="translate(193.4,234.2) rotate(-45)" text-anchor="end" font-family='"Liberation Sans", sans-serif' font-size="11.2" fill="#111">AGO2</text><text transform="translate(223.9,234.2) rotate(-45)" text-anchor="end" font-family='"Liberation Sans", sans-serif' font-size="11.2" fill="#111">IRF4</text><text transform="translate(254.4,234.2) rotate(-45)" text-anchor="end" font-family='"Liberation Sans", sans-serif' font-size="11.2" fill="#111">PSMA3</text><text transform="translate(285.0,234.2) rotate(-45)" text-anchor="end" font-family='"Liberation Sans", sans-serif' font-size="11.2" fill="#111">PSME1</text><text transform="translate(315.5,234.2) rotate(-45)" text-anchor="end" font-family='"Liberation Sans", sans-serif' font-size="11.2" fill="#111">PSMD1</text><text transform="translate(346.0,234.2) rotate(-45)" text-anchor="end" font-family='"Liberation Sans", sans-serif' font-size="11.2" fill="#111">PSMD4</text><text transform="translate(376.6,234.2) rotate(-45)" text-anchor="end" font-family='"Liberation Sans", sans-serif' font-size="11.2" fill="#111">PSMD10</text><text transform="translate(407.1,234.2) rotate(-45)" text-anchor="end" font-family='"Liberation Sans", sans-serif' font-size="11.2" fill="#111">GCR</text><text transform="translate(437.6,234.2) rotate(-45)" text-anchor="end" font-family='"Liberation Sans", sans-serif' font-size="11.2" fill="#111">XPO1</text><text x="460" y="65.0" font-family='"Liberation Sans", sans-serif' font-size="9.8" fill="#222">Protein</text><line x1="462.4" y1="70.7" x2="462.4" y2="76.7" stroke="#222" stroke-width="0.9"/><rect x="459.3" y="71.7" width="6.2" height="4" fill="#6e6410" stroke="#1a1a1a" stroke-width="0.85"/><line x1="459.3" y1="73.7" x2="465.5" y2="73.7" stroke="#222" stroke-width="0.6"/><text x="469.3" y="76.5" font-family='"Liberation Sans", sans-serif' font-size="10.2" fill="#111">Cereblon</text><line x1="462.4" y1="80.5" x2="462.4" y2="86.5" stroke="#222" stroke-width="0.9"/><rect x="459.3" y="81.5" width="6.2" height="4" fill="#c9ae18" stroke="#1a1a1a" stroke-width="0.85"/><line x1="459.3" y1="83.5" x2="465.5" y2="83.5" stroke="#222" stroke-width="0.6"/><text x="469.3" y="86.3" font-family='"Liberation Sans", sans-serif' font-size="10.2" fill="#111">Aiolos</text><line x1="462.4" y1="90.1" x2="462.4" y2="96.1" stroke="#222" stroke-width="0.9"/><rect x="459.3" y="91.1" width="6.2" height="4" fill="#b89a25" stroke="#1a1a1a" stroke-width="0.85"/><line x1="459.3" y1="93.1" x2="465.5" y2="93.1" stroke="#222" stroke-width="0.6"/><text x="469.3" y="95.9" font-family='"Liberation Sans", sans-serif' font-size="10.2" fill="#111">Ikaros</text><line x1="462.4" y1="99.8" x2="462.4" y2="105.8" stroke="#222" stroke-width="0.9"/><rect x="459.3" y="100.8" width="6.2" height="4" fill="#b98a22" stroke="#1a1a1a" stroke-width="0.85"/><line x1="459.3" y1="102.8" x2="465.5" y2="102.8" stroke="#222" stroke-width="0.6"/><text x="469.3" y="105.6" font-family='"Liberation Sans", sans-serif' font-size="10.2" fill="#111">AGO2</text><line x1="462.4" y1="109.7" x2="462.4" y2="115.7" stroke="#222" stroke-width="0.9"/><rect x="459.3" y="110.7" width="6.2" height="4" fill="#7d6024" stroke="#1a1a1a" stroke-width="0.85"/><line x1="459.3" y1="112.7" x2="465.5" y2="112.7" stroke="#222" stroke-width="0.6"/><text x="469.3" y="115.5" font-family='"Liberation Sans", sans-serif' font-size="10.2" fill="#111">IRF4</text><line x1="462.4" y1="120.9" x2="462.4" y2="126.9" stroke="#222" stroke-width="0.9"/><rect x="459.3" y="121.9" width="6.2" height="4" fill="#a7b8c4" stroke="#1a1a1a" stroke-width="0.85"/><line x1="459.3" y1="123.9" x2="465.5" y2="123.9" stroke="#222" stroke-width="0.6"/><text x="469.3" y="126.7" font-family='"Liberation Sans", sans-serif' font-size="10.2" fill="#111">PSMA3</text><line x1="462.4" y1="131.4" x2="462.4" y2="137.4" stroke="#222" stroke-width="0.9"/><rect x="459.3" y="132.4" width="6.2" height="4" fill="#5d9ad0" stroke="#1a1a1a" stroke-width="0.85"/><line x1="459.3" y1="134.4" x2="465.5" y2="134.4" stroke="#222" stroke-width="0.6"/><text x="469.3" y="137.2" font-family='"Liberation Sans", sans-serif' font-size="10.2" fill="#111">PSME1</text><line x1="462.4" y1="140.7" x2="462.4" y2="146.7" stroke="#222" stroke-width="0.9"/><rect x="459.3" y="141.7" width="6.2" height="4" fill="#4d8cc8" stroke="#1a1a1a" stroke-width="0.85"/><line x1="459.3" y1="143.7" x2="465.5" y2="143.7" stroke="#222" stroke-width="0.6"/><text x="469.3" y="146.5" font-family='"Liberation Sans", sans-serif' font-size="10.2" fill="#111">PSMD1</text><line x1="462.4" y1="151.2" x2="462.4" y2="157.2" stroke="#222" stroke-width="0.9"/><rect x="459.3" y="152.2" width="6.2" height="4" fill="#cfa416" stroke="#1a1a1a" stroke-width="0.85"/><line x1="459.3" y1="154.2" x2="465.5" y2="154.2" stroke="#222" stroke-width="0.6"/><text x="469.3" y="157.0" font-family='"Liberation Sans", sans-serif' font-size="10.2" fill="#111">PSMD4</text><line x1="462.4" y1="162.5" x2="462.4" y2="168.5" stroke="#222" stroke-width="0.9"/><rect x="459.3" y="163.5" width="6.2" height="4" fill="#1f2f6c" stroke="#1a1a1a" stroke-width="0.85"/><line x1="459.3" y1="165.5" x2="465.5" y2="165.5" stroke="#222" stroke-width="0.6"/><text x="469.3" y="168.3" font-family='"Liberation Sans", sans-serif' font-size="10.2" fill="#111">PSMD10</text><line x1="462.4" y1="173.4" x2="462.4" y2="179.4" stroke="#222" stroke-width="0.9"/><rect x="459.3" y="174.4" width="6.2" height="4" fill="#3e6a2c" stroke="#1a1a1a" stroke-width="0.85"/><line x1="459.3" y1="176.4" x2="465.5" y2="176.4" stroke="#222" stroke-width="0.6"/><text x="469.3" y="179.2" font-family='"Liberation Sans", sans-serif' font-size="10.2" fill="#111">GCR</text><line x1="462.4" y1="184.9" x2="462.4" y2="190.9" stroke="#222" stroke-width="0.9"/><rect x="459.3" y="185.9" width="6.2" height="4" fill="#2a4a22" stroke="#1a1a1a" stroke-width="0.85"/><line x1="459.3" y1="187.9" x2="465.5" y2="187.9" stroke="#222" stroke-width="0.6"/><text x="469.3" y="190.7" font-family='"Liberation Sans", sans-serif' font-size="10.2" fill="#111">XPO1</text><text x="130.1" y="294.8" font-family='"Liberation Sans", sans-serif' font-weight="bold" font-size="16.5" fill="#000">B</text><path d="M145.98 307.30V522.46M145.98 307.30H361.14M163.91 307.30V522.46M145.98 325.23H361.14M181.84 307.30V522.46M145.98 343.16H361.14M199.77 307.30V522.46M145.98 361.09H361.14M217.70 307.30V522.46M145.98 379.02H361.14M235.63 307.30V522.46M145.98 396.95H361.14M253.56 307.30V522.46M145.98 414.88H361.14M271.49 307.30V522.46M145.98 432.81H361.14M289.42 307.30V522.46M145.98 450.74H361.14M307.35 307.30V522.46M145.98 468.67H361.14M325.28 307.30V522.46M145.98 486.60H361.14M343.21 307.30V522.46M145.98 504.53H361.14M361.14 307.30V522.46M145.98 522.46H361.14" stroke="#e4e4e4" stroke-width="1" fill="none"/><text transform="translate(154.94,317.96) scale(0.92,1)" text-anchor="middle" font-family='"Liberation Sans", sans-serif' font-weight="bold" font-size="4.8" fill="#000">Ikaros</text><circle cx="171.97" cy="316.87" r="2.99" fill="#aecae7"/><circle cx="189.91" cy="316.87" r="2.99" fill="#aecae7"/><circle cx="207.83" cy="316.87" r="2.73" fill="#bad2ea"/><circle cx="225.76" cy="316.87" r="2.20" fill="#d1e1f0"/><circle cx="243.69" cy="316.87" r="2.52" fill="#c3d8ec"/><circle cx="261.62" cy="316.87" r="2.46" fill="#c5daed"/><circle cx="279.56" cy="316.87" r="1.99" fill="#dae7f3"/><circle cx="298.38" cy="316.26" r="5.49" fill="#9bbce0"/><circle cx="315.42" cy="316.87" r="2.67" fill="#bcd4ea"/><circle cx="333.35" cy="316.87" r="2.78" fill="#b7d0e9"/><circle cx="351.27" cy="316.87" r="2.78" fill="#b7d0e9"/><text x="154.94" y="336.19" text-anchor="middle" font-family='"Liberation Sans", sans-serif' font-size="6.2" fill="#aecae7" stroke="#aecae7" stroke-width="0.18">0.36</text><text transform="translate(172.88,335.89) scale(0.92,1)" text-anchor="middle" font-family='"Liberation Sans", sans-serif' font-weight="bold" font-size="4.8" fill="#000">Aiolos</text><circle cx="190.81" cy="334.19" r="6.90" fill="#4f7bb9"/><circle cx="207.83" cy="334.80" r="2.89" fill="#b3cde8"/><circle cx="225.76" cy="334.80" r="2.67" fill="#bcd4ea"/><circle cx="243.69" cy="334.80" r="2.46" fill="#c5daed"/><circle cx="262.52" cy="334.19" r="5.61" fill="#94b8dd"/><circle cx="279.56" cy="334.80" r="2.73" fill="#bad2ea"/><circle cx="297.49" cy="334.80" r="2.41" fill="#c8dbee"/><circle cx="315.42" cy="334.80" r="1.78" fill="#e2edf6"/><circle cx="333.35" cy="334.80" r="2.10" fill="#d5e4f2"/><circle cx="351.27" cy="334.80" r="1.89" fill="#deeaf4"/><text x="154.94" y="354.12" text-anchor="middle" font-family='"Liberation Sans", sans-serif' font-size="6.2" fill="#aecae7" stroke="#aecae7" stroke-width="0.18">0.36</text><text x="172.88" y="354.12" text-anchor="middle" font-family='"Liberation Sans", sans-serif' font-size="6.2" fill="#4f7bb9" stroke="#4f7bb9" stroke-width="0.18">0.69</text><text transform="translate(190.81,353.82) scale(0.92,1)" text-anchor="middle" font-family='"Liberation Sans", sans-serif' font-weight="bold" font-size="4.8" fill="#000">Cereblon</text><circle cx="208.73" cy="352.12" r="5.67" fill="#90b5dc"/><circle cx="226.66" cy="352.12" r="5.24" fill="#a7c6e5"/><circle cx="244.59" cy="352.12" r="5.24" fill="#a7c6e5"/><circle cx="262.52" cy="352.12" r="6.34" fill="#6797cb"/><circle cx="280.45" cy="352.12" r="5.67" fill="#90b5dc"/><circle cx="298.38" cy="352.12" r="5.37" fill="#a2c2e3"/><circle cx="315.42" cy="352.73" r="2.04" fill="#d7e6f2"/><circle cx="333.35" cy="352.73" r="2.67" fill="#bcd4ea"/><circle cx="351.27" cy="352.73" r="2.31" fill="#ccdeef"/><text x="154.94" y="372.06" text-anchor="middle" font-family='"Liberation Sans", sans-serif' font-size="6.2" fill="#bad2ea" stroke="#bad2ea" stroke-width="0.18">0.31</text><text x="172.88" y="372.06" text-anchor="middle" font-family='"Liberation Sans", sans-serif' font-size="6.2" fill="#b3cde8" stroke="#b3cde8" stroke-width="0.18">0.34</text><text x="190.81" y="372.06" text-anchor="middle" font-family='"Liberation Sans", sans-serif' font-size="6.2" fill="#90b5dc" stroke="#90b5dc" stroke-width="0.18">0.46</text><text transform="translate(208.73,371.75) scale(0.92,1)" text-anchor="middle" font-family='"Liberation Sans", sans-serif' font-weight="bold" font-size="4.8" fill="#000">PSMD10</text><circle cx="226.66" cy="370.06" r="7.19" fill="#446cae"/><circle cx="244.59" cy="370.06" r="7.00" fill="#4b76b5"/><circle cx="262.52" cy="370.06" r="6.85" fill="#517eba"/><circle cx="280.45" cy="370.06" r="7.09" fill="#4771b2"/><circle cx="298.38" cy="370.06" r="6.24" fill="#6e9cce"/><circle cx="316.31" cy="370.06" r="5.49" fill="#9bbce0"/><circle cx="334.25" cy="370.06" r="5.85" fill="#86aed7"/><circle cx="351.27" cy="370.66" r="2.67" fill="#bcd4ea"/><text x="154.94" y="389.99" text-anchor="middle" font-family='"Liberation Sans", sans-serif' font-size="6.2" fill="#d1e1f0" stroke="#d1e1f0" stroke-width="0.18">0.21</text><text x="172.88" y="389.99" text-anchor="middle" font-family='"Liberation Sans", sans-serif' font-size="6.2" fill="#bcd4ea" stroke="#bcd4ea" stroke-width="0.18">0.3</text><text x="190.81" y="389.99" text-anchor="middle" font-family='"Liberation Sans", sans-serif' font-size="6.2" fill="#a7c6e5" stroke="#a7c6e5" stroke-width="0.18">0.39</text><text x="208.73" y="389.99" text-anchor="middle" font-family='"Liberation Sans", sans-serif' font-size="6.2" fill="#446cae" stroke="#446cae" stroke-width="0.18">0.75</text><text transform="translate(226.66,389.69) scale(0.92,1)" text-anchor="middle" font-family='"Liberation Sans", sans-serif' font-weight="bold" font-size="4.8" fill="#000">PSME1</text><circle cx="244.59" cy="387.99" r="6.75" fill="#5583be"/><circle cx="262.52" cy="387.99" r="6.40" fill="#6394c9"/><circle cx="280.45" cy="387.99" r="6.85" fill="#517eba"/><circle cx="298.38" cy="387.99" r="6.18" fill="#719ecf"/><circle cx="316.31" cy="387.99" r="5.37" fill="#a2c2e3"/><circle cx="334.25" cy="387.99" r="5.91" fill="#82abd6"/><circle cx="351.27" cy="388.59" r="2.52" fill="#c3d8ec"/><text x="154.94" y="407.92" text-anchor="middle" font-family='"Liberation Sans", sans-serif' font-size="6.2" fill="#c3d8ec" stroke="#c3d8ec" stroke-width="0.18">0.27</text><text x="172.88" y="407.92" text-anchor="middle" font-family='"Liberation Sans", sans-serif' font-size="6.2" fill="#c5daed" stroke="#c5daed" stroke-width="0.18">0.26</text><text x="190.81" y="407.92" text-anchor="middle" font-family='"Liberation Sans", sans-serif' font-size="6.2" fill="#a7c6e5" stroke="#a7c6e5" stroke-width="0.18">0.39</text><text x="208.73" y="407.92" text-anchor="middle" font-family='"Liberation Sans", sans-serif' font-size="6.2" fill="#4b76b5" stroke="#4b76b5" stroke-width="0.18">0.71</text><text x="226.66" y="407.92" text-anchor="middle" font-family='"Liberation Sans", sans-serif' font-size="6.2" fill="#5583be" stroke="#5583be" stroke-width="0.18">0.66</text><text transform="translate(244.59,407.62) scale(0.92,1)" text-anchor="middle" font-family='"Liberation Sans", sans-serif' font-weight="bold" font-size="4.8" fill="#000">GCR</text><circle cx="262.52" cy="405.92" r="6.71" fill="#5685c0"/><circle cx="280.45" cy="405.92" r="7.00" fill="#4b76b5"/><circle cx="298.38" cy="405.92" r="6.34" fill="#6797cb"/><circle cx="316.31" cy="405.92" r="5.96" fill="#7fa8d5"/><circle cx="334.25" cy="405.92" r="6.13" fill="#75a1d0"/><circle cx="352.17" cy="405.92" r="5.37" fill="#a2c2e3"/><text x="154.94" y="425.85" text-anchor="middle" font-family='"Liberation Sans", sans-serif' font-size="6.2" fill="#c5daed" stroke="#c5daed" stroke-width="0.18">0.26</text><text x="172.88" y="425.85" text-anchor="middle" font-family='"Liberation Sans", sans-serif' font-size="6.2" fill="#94b8dd" stroke="#94b8dd" stroke-width="0.18">0.45</text><text x="190.81" y="425.85" text-anchor="middle" font-family='"Liberation Sans", sans-serif' font-size="6.2" fill="#6797cb" stroke="#6797cb" stroke-width="0.18">0.58</text><text x="208.73" y="425.85" text-anchor="middle" font-family='"Liberation Sans", sans-serif' font-size="6.2" fill="#517eba" stroke="#517eba" stroke-width="0.18">0.68</text><text x="226.66" y="425.85" text-anchor="middle" font-family='"Liberation Sans", sans-serif' font-size="6.2" fill="#6394c9" stroke="#6394c9" stroke-width="0.18">0.59</text><text x="244.59" y="425.85" text-anchor="middle" font-family='"Liberation Sans", sans-serif' font-size="6.2" fill="#5685c0" stroke="#5685c0" stroke-width="0.18">0.65</text><text transform="translate(262.52,425.55) scale(0.92,1)" text-anchor="middle" font-family='"Liberation Sans", sans-serif' font-weight="bold" font-size="4.8" fill="#000">IRF4</text><circle cx="280.45" cy="423.85" r="7.00" fill="#4b76b5"/><circle cx="298.38" cy="423.85" r="5.61" fill="#94b8dd"/><circle cx="315.42" cy="424.45" r="2.57" fill="#c1d7ec"/><circle cx="333.35" cy="424.45" r="2.99" fill="#aecae7"/><circle cx="351.27" cy="424.45" r="2.36" fill="#caddee"/><text x="154.94" y="443.77" text-anchor="middle" font-family='"Liberation Sans", sans-serif' font-size="6.2" fill="#dae7f3" stroke="#dae7f3" stroke-width="0.18">0.17</text><text x="172.88" y="443.77" text-anchor="middle" font-family='"Liberation Sans", sans-serif' font-size="6.2" fill="#bad2ea" stroke="#bad2ea" stroke-width="0.18">0.31</text><text x="190.81" y="443.77" text-anchor="middle" font-family='"Liberation Sans", sans-serif' font-size="6.2" fill="#90b5dc" stroke="#90b5dc" stroke-width="0.18">0.46</text><text x="208.73" y="443.77" text-anchor="middle" font-family='"Liberation Sans", sans-serif' font-size="6.2" fill="#4771b2" stroke="#4771b2" stroke-width="0.18">0.73</text><text x="226.66" y="443.77" text-anchor="middle" font-family='"Liberation Sans", sans-serif' font-size="6.2" fill="#517eba" stroke="#517eba" stroke-width="0.18">0.68</text><text x="244.59" y="443.77" text-anchor="middle" font-family='"Liberation Sans", sans-serif' font-size="6.2" fill="#4b76b5" stroke="#4b76b5" stroke-width="0.18">0.71</text><text x="262.52" y="443.77" text-anchor="middle" font-family='"Liberation Sans", sans-serif' font-size="6.2" fill="#4b76b5" stroke="#4b76b5" stroke-width="0.18">0.71</text><text transform="translate(280.45,443.47) scale(0.92,1)" text-anchor="middle" font-family='"Liberation Sans", sans-serif' font-weight="bold" font-size="4.8" fill="#000">XPO1</text><circle cx="298.38" cy="441.77" r="6.13" fill="#75a1d0"/><circle cx="316.31" cy="441.77" r="5.49" fill="#9bbce0"/><circle cx="334.25" cy="441.77" r="5.85" fill="#86aed7"/><circle cx="351.27" cy="442.38" r="2.89" fill="#b3cde8"/><text x="154.94" y="461.71" text-anchor="middle" font-family='"Liberation Sans", sans-serif' font-size="6.2" fill="#9bbce0" stroke="#9bbce0" stroke-width="0.18">0.43</text><text x="172.88" y="461.71" text-anchor="middle" font-family='"Liberation Sans", sans-serif' font-size="6.2" fill="#c8dbee" stroke="#c8dbee" stroke-width="0.18">0.25</text><text x="190.81" y="461.71" text-anchor="middle" font-family='"Liberation Sans", sans-serif' font-size="6.2" fill="#a2c2e3" stroke="#a2c2e3" stroke-width="0.18">0.41</text><text x="208.73" y="461.71" text-anchor="middle" font-family='"Liberation Sans", sans-serif' font-size="6.2" fill="#6e9cce" stroke="#6e9cce" stroke-width="0.18">0.56</text><text x="226.66" y="461.71" text-anchor="middle" font-family='"Liberation Sans", sans-serif' font-size="6.2" fill="#719ecf" stroke="#719ecf" stroke-width="0.18">0.55</text><text x="244.59" y="461.71" text-anchor="middle" font-family='"Liberation Sans", sans-serif' font-size="6.2" fill="#6797cb" stroke="#6797cb" stroke-width="0.18">0.58</text><text x="262.52" y="461.71" text-anchor="middle" font-family='"Liberation Sans", sans-serif' font-size="6.2" fill="#94b8dd" stroke="#94b8dd" stroke-width="0.18">0.45</text><text x="280.45" y="461.71" text-anchor="middle" font-family='"Liberation Sans", sans-serif' font-size="6.2" fill="#75a1d0" stroke="#75a1d0" stroke-width="0.18">0.54</text><text transform="translate(298.38,461.41) scale(0.92,1)" text-anchor="middle" font-family='"Liberation Sans", sans-serif' font-weight="bold" font-size="4.8" fill="#000">PSMA3</text><circle cx="316.31" cy="459.71" r="7.23" fill="#4269ad"/><circle cx="334.25" cy="459.71" r="6.90" fill="#4f7bb9"/><circle cx="352.17" cy="459.71" r="6.71" fill="#5685c0"/><text x="154.94" y="479.63" text-anchor="middle" font-family='"Liberation Sans", sans-serif' font-size="6.2" fill="#bcd4ea" stroke="#bcd4ea" stroke-width="0.18">0.3</text><text x="172.88" y="479.63" text-anchor="middle" font-family='"Liberation Sans", sans-serif' font-size="6.2" fill="#e2edf6" stroke="#e2edf6" stroke-width="0.18">0.13</text><text x="190.81" y="479.63" text-anchor="middle" font-family='"Liberation Sans", sans-serif' font-size="6.2" fill="#d7e6f2" stroke="#d7e6f2" stroke-width="0.18">0.18</text><text x="208.73" y="479.63" text-anchor="middle" font-family='"Liberation Sans", sans-serif' font-size="6.2" fill="#9bbce0" stroke="#9bbce0" stroke-width="0.18">0.43</text><text x="226.66" y="479.63" text-anchor="middle" font-family='"Liberation Sans", sans-serif' font-size="6.2" fill="#a2c2e3" stroke="#a2c2e3" stroke-width="0.18">0.41</text><text x="244.59" y="479.63" text-anchor="middle" font-family='"Liberation Sans", sans-serif' font-size="6.2" fill="#7fa8d5" stroke="#7fa8d5" stroke-width="0.18">0.51</text><text x="262.52" y="479.63" text-anchor="middle" font-family='"Liberation Sans", sans-serif' font-size="6.2" fill="#c1d7ec" stroke="#c1d7ec" stroke-width="0.18">0.28</text><text x="280.45" y="479.63" text-anchor="middle" font-family='"Liberation Sans", sans-serif' font-size="6.2" fill="#9bbce0" stroke="#9bbce0" stroke-width="0.18">0.43</text><text x="298.38" y="479.63" text-anchor="middle" font-family='"Liberation Sans", sans-serif' font-size="6.2" fill="#4269ad" stroke="#4269ad" stroke-width="0.18">0.76</text><text transform="translate(316.31,479.33) scale(0.92,1)" text-anchor="middle" font-family='"Liberation Sans", sans-serif' font-weight="bold" font-size="4.8" fill="#000">PSMD1</text><circle cx="334.25" cy="477.63" r="7.14" fill="#456eb0"/><circle cx="352.17" cy="477.63" r="6.90" fill="#4f7bb9"/><text x="154.94" y="497.56" text-anchor="middle" font-family='"Liberation Sans", sans-serif' font-size="6.2" fill="#b7d0e9" stroke="#b7d0e9" stroke-width="0.18">0.32</text><text x="172.88" y="497.56" text-anchor="middle" font-family='"Liberation Sans", sans-serif' font-size="6.2" fill="#d5e4f2" stroke="#d5e4f2" stroke-width="0.18">0.19</text><text x="190.81" y="497.56" text-anchor="middle" font-family='"Liberation Sans", sans-serif' font-size="6.2" fill="#bcd4ea" stroke="#bcd4ea" stroke-width="0.18">0.3</text><text x="208.73" y="497.56" text-anchor="middle" font-family='"Liberation Sans", sans-serif' font-size="6.2" fill="#86aed7" stroke="#86aed7" stroke-width="0.18">0.49</text><text x="226.66" y="497.56" text-anchor="middle" font-family='"Liberation Sans", sans-serif' font-size="6.2" fill="#82abd6" stroke="#82abd6" stroke-width="0.18">0.5</text><text x="244.59" y="497.56" text-anchor="middle" font-family='"Liberation Sans", sans-serif' font-size="6.2" fill="#75a1d0" stroke="#75a1d0" stroke-width="0.18">0.54</text><text x="262.52" y="497.56" text-anchor="middle" font-family='"Liberation Sans", sans-serif' font-size="6.2" fill="#aecae7" stroke="#aecae7" stroke-width="0.18">0.36</text><text x="280.45" y="497.56" text-anchor="middle" font-family='"Liberation Sans", sans-serif' font-size="6.2" fill="#86aed7" stroke="#86aed7" stroke-width="0.18">0.49</text><text x="298.38" y="497.56" text-anchor="middle" font-family='"Liberation Sans", sans-serif' font-size="6.2" fill="#4f7bb9" stroke="#4f7bb9" stroke-width="0.18">0.69</text><text x="316.31" y="497.56" text-anchor="middle" font-family='"Liberation Sans", sans-serif' font-size="6.2" fill="#456eb0" stroke="#456eb0" stroke-width="0.18">0.74</text><text transform="translate(334.25,497.26) scale(0.92,1)" text-anchor="middle" font-family='"Liberation Sans", sans-serif' font-weight="bold" font-size="4.8" fill="#000">PSMD4</text><circle cx="352.17" cy="495.56" r="6.60" fill="#5a8ac3"/><text x="154.94" y="515.50" text-anchor="middle" font-family='"Liberation Sans", sans-serif' font-size="6.2" fill="#b7d0e9" stroke="#b7d0e9" stroke-width="0.18">0.32</text><text x="172.88" y="515.50" text-anchor="middle" font-family='"Liberation Sans", sans-serif' font-size="6.2" fill="#deeaf4" stroke="#deeaf4" stroke-width="0.18">0.15</text><text x="190.81" y="515.50" text-anchor="middle" font-family='"Liberation Sans", sans-serif' font-size="6.2" fill="#ccdeef" stroke="#ccdeef" stroke-width="0.18">0.23</text><text x="208.73" y="515.50" text-anchor="middle" font-family='"Liberation Sans", sans-serif' font-size="6.2" fill="#bcd4ea" stroke="#bcd4ea" stroke-width="0.18">0.3</text><text x="226.66" y="515.50" text-anchor="middle" font-family='"Liberation Sans", sans-serif' font-size="6.2" fill="#c3d8ec" stroke="#c3d8ec" stroke-width="0.18">0.27</text><text x="244.59" y="515.50" text-anchor="middle" font-family='"Liberation Sans", sans-serif' font-size="6.2" fill="#a2c2e3" stroke="#a2c2e3" stroke-width="0.18">0.41</text><text x="262.52" y="515.50" text-anchor="middle" font-family='"Liberation Sans", sans-serif' font-size="6.2" fill="#caddee" stroke="#caddee" stroke-width="0.18">0.24</text><text x="280.45" y="515.50" text-anchor="middle" font-family='"Liberation Sans", sans-serif' font-size="6.2" fill="#b3cde8" stroke="#b3cde8" stroke-width="0.18">0.34</text><text x="298.38" y="515.50" text-anchor="middle" font-family='"Liberation Sans", sans-serif' font-size="6.2" fill="#5685c0" stroke="#5685c0" stroke-width="0.18">0.65</text><text x="316.31" y="515.50" text-anchor="middle" font-family='"Liberation Sans", sans-serif' font-size="6.2" fill="#4f7bb9" stroke="#4f7bb9" stroke-width="0.18">0.69</text><text x="334.25" y="515.50" text-anchor="middle" font-family='"Liberation Sans", sans-serif' font-size="6.2" fill="#5a8ac3" stroke="#5a8ac3" stroke-width="0.18">0.63</text><text transform="translate(352.17,515.20) scale(0.92,1)" text-anchor="middle" font-family='"Liberation Sans", sans-serif' font-weight="bold" font-size="4.8" fill="#000">AGO2</text><defs><linearGradient id="cb" x1="0" y1="0" x2="0" y2="1"><stop offset="0.000" stop-color="#1d2b5b"/><stop offset="0.100" stop-color="#3a5fa6"/><stop offset="0.200" stop-color="#6092c8"/><stop offset="0.300" stop-color="#a5c4e4"/><stop offset="0.400" stop-color="#d3e3f1"/><stop offset="0.500" stop-color="#ffffff"/><stop offset="0.600" stop-color="#fbe1cf"/><stop offset="0.700" stop-color="#eea57c"/><stop offset="0.800" stop-color="#c95a4a"/><stop offset="0.900" stop-color="#a01a2a"/><stop offset="1.000" stop-color="#5b0d1c"/></linearGradient></defs><rect x="365.4" y="307.3" width="7.9" height="215.16" fill="url(#cb)" stroke="#555" stroke-width="0.7"/><text x="379" y="309.80" font-family='"Liberation Sans", sans-serif' font-size="7" fill="#222">1</text><text x="379" y="331.32" font-family='"Liberation Sans", sans-serif' font-size="7" fill="#222">0.8</text><text x="379" y="352.83" font-family='"Liberation Sans", sans-serif' font-size="7" fill="#222">0.6</text><text x="379" y="374.35" font-family='"Liberation Sans", sans-serif' font-size="7" fill="#222">0.4</text><text x="379" y="395.86" font-family='"Liberation Sans", sans-serif' font-size="7" fill="#222">0.2</text><text x="379" y="417.38" font-family='"Liberation Sans", sans-serif' font-size="7" fill="#222">0</text><text x="379" y="438.90" font-family='"Liberation Sans", sans-serif' font-size="7" fill="#222">-0.2</text><text x="379" y="460.41" font-family='"Liberation Sans", sans-serif' font-size="7" fill="#222">-0.4</text><text x="379" y="481.93" font-family='"Liberation Sans", sans-serif' font-size="7" fill="#222">-0.6</text><text x="379" y="503.44" font-family='"Liberation Sans", sans-serif' font-size="7" fill="#222">-0.8</text><text x="379" y="524.96" font-family='"Liberation Sans", sans-serif' font-size="7" fill="#222">-1</text><path d="M373.3 307.30h1.6M373.3 328.82h1.6M373.3 350.33h1.6M373.3 371.85h1.6M373.3 393.36h1.6M373.3 414.88h1.6M373.3 436.40h1.6M373.3 457.91h1.6M373.3 479.43h1.6M373.3 500.94h1.6M373.3 522.46h1.6" stroke="#555" stroke-width="0.7"/><rect x="0.75" y="0.75" width="518.5" height="531.5" fill="none" stroke="#000" stroke-width="1.5"/></svg>
</body></html>
